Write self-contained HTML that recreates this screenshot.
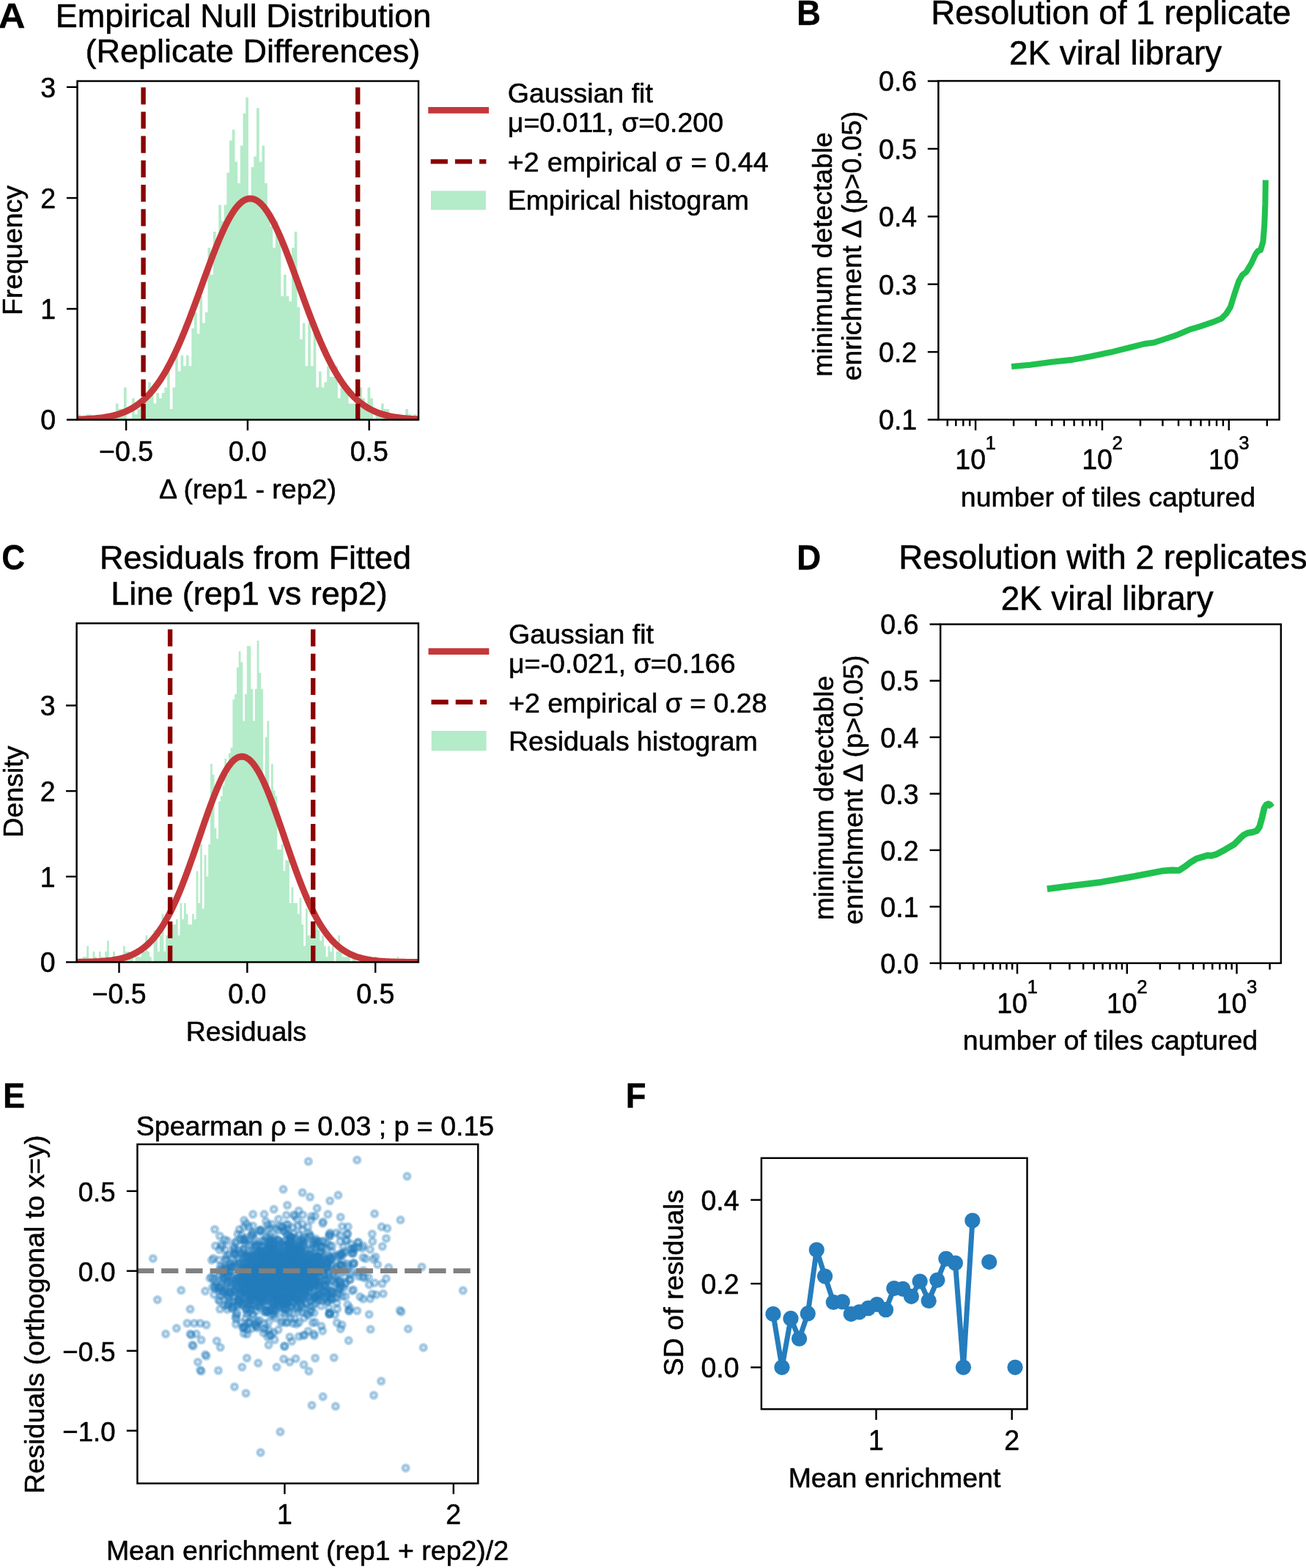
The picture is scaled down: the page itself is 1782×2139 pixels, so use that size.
<!DOCTYPE html>
<html lang="en">
<head>
<meta charset="utf-8">
<title>Figure: empirical null distribution and resolution</title>
<style>
html,body{margin:0;padding:0;background:#fff;}
body{width:1782px;height:2139px;overflow:hidden;}
svg{display:block;font-family:'Liberation Sans', Arial, Helvetica, sans-serif;}
svg text{fill:#000;stroke:#000;stroke-width:0.55px;stroke-linejoin:round;}
</style>
</head>
<body>
<svg xmlns="http://www.w3.org/2000/svg" width="1782" height="2139" viewBox="0 0 1782 2139">
<rect x="0" y="0" width="1782" height="2139" fill="#ffffff"/>
<clipPath id="c1"><rect x="105.5" y="110.6" width="465.5" height="462"/></clipPath>
<g clip-path="url(#c1)">
<path d="M106.14,572.6V565.27H109.84V572.6H113.53V572.6H117.22V565.27H120.92V565.27H124.61V572.6H128.31V572.6H132V572.6H135.7V572.6H139.39V572.6H143.09V572.6H146.78V572.6H150.48V572.6H154.17V572.6H157.87V550.61H161.56V557.94H165.26V557.94H168.95V528.62H172.65V572.6H176.34V572.6H180.04V543.28H183.73V565.27H187.43V557.94H191.12V550.61H194.82V543.28H198.51V543.28H202.21V521.29H205.9V535.95H209.6V550.61H213.29V535.95H216.99V543.28H220.68V535.95H224.38V528.62H228.07V506.63H231.77V557.94H235.46V528.62H239.16V484.64H242.85V506.63H246.55V484.64H250.24V499.3H253.94V484.64H257.63V499.3H261.33V447.99H265.02V426H268.72V455.32H272.41V404.01H276.11V440.66H279.8V426H283.5V338.04H287.19V374.69H290.89V316.05H294.58V330.71H298.28V279.4H301.97V301.39H305.67V279.4H309.36V235.42H313.06V191.44H316.75V176.78H320.45V220.76H324.14V250.08H327.84V198.77H331.53V154.79H335.23V132.8H338.92V272.07H342.62V228.09H346.31V213.43H350.01V147.46H353.7V220.76H357.4V198.77H361.09V250.08H364.79V294.06H368.48V308.72H372.18V338.04H375.87V301.39H379.57V330.71H383.26V404.01H386.96V374.69H390.65V404.01H394.35V411.34H398.04V338.04H401.74V316.05H405.43V418.67H409.13V462.65H412.82V440.66H416.52V499.3H420.21V440.66H423.91V499.3H427.6V455.32H431.3V528.62H434.99V506.63H438.69V528.62H442.38V521.29H446.08V499.3H449.77V513.96H453.47V513.96H457.16V499.3H460.86V543.28H464.55V528.62H468.25V528.62H471.94V528.62H475.64V550.61H479.33V550.61H483.03V550.61H486.72V550.61H490.42V528.62H494.11V543.28H497.81V550.61H501.5V528.62H505.2V543.28H508.89V572.6H512.59V565.27H516.28V565.27H519.98V550.61H523.67V557.94H527.37V557.94H531.06V565.27H534.76V572.6H538.45V565.27H542.15V572.6H545.84V572.6H549.54V572.6H553.23V557.94H556.93V565.27H560.62V572.6H564.32V565.27H568.02V572.6H571.71V572.6H575.41V572.6Z" fill="#b4ebc9"/>
<path d="M105.5,572.06 L107.44,572.01 L109.38,571.94 L111.32,571.87 L113.26,571.79 L115.2,571.71 L117.14,571.62 L119.08,571.51 L121.02,571.4 L122.96,571.28 L124.9,571.15 L126.84,571 L128.78,570.84 L130.71,570.67 L132.65,570.49 L134.59,570.28 L136.53,570.06 L138.47,569.82 L140.41,569.56 L142.35,569.28 L144.29,568.98 L146.23,568.65 L148.17,568.3 L150.11,567.92 L152.05,567.51 L153.99,567.07 L155.93,566.59 L157.87,566.08 L159.81,565.54 L161.75,564.95 L163.69,564.32 L165.63,563.65 L167.57,562.93 L169.51,562.17 L171.45,561.35 L173.39,560.48 L175.32,559.55 L177.26,558.57 L179.2,557.52 L181.14,556.41 L183.08,555.23 L185.02,553.98 L186.96,552.65 L188.9,551.26 L190.84,549.78 L192.78,548.22 L194.72,546.58 L196.66,544.85 L198.6,543.03 L200.54,541.12 L202.48,539.12 L204.42,537.02 L206.36,534.81 L208.3,532.51 L210.24,530.1 L212.18,527.59 L214.12,524.97 L216.06,522.23 L218,519.39 L219.94,516.44 L221.88,513.37 L223.81,510.18 L225.75,506.89 L227.69,503.47 L229.63,499.94 L231.57,496.3 L233.51,492.54 L235.45,488.67 L237.39,484.69 L239.33,480.6 L241.27,476.4 L243.21,472.09 L245.15,467.68 L247.09,463.17 L249.03,458.57 L250.97,453.87 L252.91,449.08 L254.85,444.21 L256.79,439.27 L258.73,434.25 L260.67,429.16 L262.61,424.02 L264.55,418.82 L266.49,413.58 L268.43,408.3 L270.36,402.99 L272.3,397.65 L274.24,392.3 L276.18,386.95 L278.12,381.6 L280.06,376.27 L282,370.96 L283.94,365.69 L285.88,360.45 L287.82,355.27 L289.76,350.16 L291.7,345.12 L293.64,340.16 L295.58,335.3 L297.52,330.54 L299.46,325.9 L301.4,321.39 L303.34,317.01 L305.28,312.78 L307.22,308.7 L309.16,304.79 L311.1,301.06 L313.04,297.5 L314.98,294.14 L316.91,290.98 L318.85,288.02 L320.79,285.28 L322.73,282.77 L324.67,280.48 L326.61,278.42 L328.55,276.6 L330.49,275.03 L332.43,273.7 L334.37,272.63 L336.31,271.81 L338.25,271.24 L340.19,270.93 L342.13,270.88 L344.07,271.08 L346.01,271.55 L347.95,272.27 L349.89,273.24 L351.83,274.47 L353.77,275.94 L355.71,277.67 L357.65,279.63 L359.59,281.82 L361.52,284.25 L363.46,286.9 L365.4,289.77 L367.34,292.85 L369.28,296.13 L371.22,299.61 L373.16,303.27 L375.1,307.12 L377.04,311.13 L378.98,315.3 L380.92,319.62 L382.86,324.08 L384.8,328.67 L386.74,333.38 L388.68,338.2 L390.62,343.12 L392.56,348.13 L394.5,353.22 L396.44,358.37 L398.38,363.58 L400.32,368.85 L402.26,374.14 L404.2,379.47 L406.14,384.81 L408.07,390.16 L410.01,395.51 L411.95,400.85 L413.89,406.17 L415.83,411.47 L417.77,416.73 L419.71,421.95 L421.65,427.11 L423.59,432.22 L425.53,437.27 L427.47,442.24 L429.41,447.14 L431.35,451.96 L433.29,456.7 L435.23,461.34 L437.17,465.89 L439.11,470.34 L441.05,474.69 L442.99,478.93 L444.93,483.07 L446.87,487.09 L448.81,491.01 L450.75,494.81 L452.69,498.5 L454.62,502.07 L456.56,505.53 L458.5,508.88 L460.44,512.11 L462.38,515.22 L464.32,518.22 L466.26,521.11 L468.2,523.89 L470.14,526.55 L472.08,529.11 L474.02,531.56 L475.96,533.9 L477.9,536.15 L479.84,538.29 L481.78,540.33 L483.72,542.28 L485.66,544.14 L487.6,545.9 L489.54,547.58 L491.48,549.17 L493.42,550.68 L495.36,552.1 L497.3,553.46 L499.24,554.73 L501.18,555.94 L503.11,557.08 L505.05,558.15 L506.99,559.16 L508.93,560.12 L510.87,561.01 L512.81,561.85 L514.75,562.63 L516.69,563.37 L518.63,564.06 L520.57,564.71 L522.51,565.31 L524.45,565.87 L526.39,566.39 L528.33,566.88 L530.27,567.34 L532.21,567.76 L534.15,568.15 L536.09,568.52 L538.03,568.85 L539.97,569.17 L541.91,569.45 L543.85,569.72 L545.79,569.97 L547.73,570.2 L549.66,570.41 L551.6,570.6 L553.54,570.78 L555.48,570.94 L557.42,571.09 L559.36,571.23 L561.3,571.35 L563.24,571.47 L565.18,571.58 L567.12,571.67 L569.06,571.76 L571,571.84" fill="none" stroke="#c4383b" stroke-width="8.9" stroke-linejoin="round"/>
<line x1="195.6" y1="119.2" x2="195.6" y2="572.6" stroke="#8b0000" stroke-width="6.4" stroke-dasharray="23.2 10"/>
<line x1="488.2" y1="119.2" x2="488.2" y2="572.6" stroke="#8b0000" stroke-width="6.4" stroke-dasharray="23.2 10"/>
</g>
<rect x="105.5" y="110.6" width="465.5" height="462" fill="none" stroke="#000" stroke-width="2.45"/>
<line x1="90.9" y1="572.6" x2="105.5" y2="572.6" stroke="#000" stroke-width="2.45"/>
<text transform="translate(76 586.4) scale(1 1.035)" font-size="37.5" text-anchor="end">0</text>
<line x1="90.9" y1="421.33" x2="105.5" y2="421.33" stroke="#000" stroke-width="2.45"/>
<text transform="translate(76 435.13) scale(1 1.035)" font-size="37.5" text-anchor="end">1</text>
<line x1="90.9" y1="270.07" x2="105.5" y2="270.07" stroke="#000" stroke-width="2.45"/>
<text transform="translate(76 283.87) scale(1 1.035)" font-size="37.5" text-anchor="end">2</text>
<line x1="90.9" y1="118.8" x2="105.5" y2="118.8" stroke="#000" stroke-width="2.45"/>
<text transform="translate(76 132.6) scale(1 1.035)" font-size="37.5" text-anchor="end">3</text>
<line x1="172.1" y1="572.6" x2="172.1" y2="587.2" stroke="#000" stroke-width="2.45"/>
<text transform="translate(172.1 628.8) scale(1 1.035)" font-size="37.5" text-anchor="middle">−0.5</text>
<line x1="337.9" y1="572.6" x2="337.9" y2="587.2" stroke="#000" stroke-width="2.45"/>
<text transform="translate(337.9 628.8) scale(1 1.035)" font-size="37.5" text-anchor="middle">0.0</text>
<line x1="503.7" y1="572.6" x2="503.7" y2="587.2" stroke="#000" stroke-width="2.45"/>
<text transform="translate(503.7 628.8) scale(1 1.035)" font-size="37.5" text-anchor="middle">0.5</text>
<text x="332" y="37.4" font-size="45" text-anchor="middle">Empirical Null Distribution</text>
<text x="344.9" y="85" font-size="45" text-anchor="middle">(Replicate Differences)</text>
<text x="338" y="679.5" font-size="37.5" text-anchor="middle">Δ (rep1 - rep2)</text>
<text x="29.8" y="341.5" font-size="37.5" text-anchor="middle" transform="rotate(-90 29.8 341.5)">Frequency</text>
<line x1="588.7" y1="150.4" x2="662.6" y2="150.4" stroke="#c4383b" stroke-width="8.9" stroke-linecap="square"/>
<line x1="587.7" y1="220.4" x2="663.4" y2="220.4" stroke="#8b0000" stroke-width="6.4" stroke-dasharray="23.2 10"/>
<rect x="588" y="260.3" width="74.9" height="26" fill="#b4ebc9"/>
<text x="692.8" y="139.8" font-size="37.5" text-anchor="start">Gaussian fit</text>
<text x="692.8" y="179.7" font-size="37.5" text-anchor="start">μ=0.011, σ=0.200</text>
<text x="692.8" y="233.7" font-size="37.5" text-anchor="start" word-spacing="0.8">+2 empirical σ = 0.44</text>
<text x="692.8" y="286.3" font-size="37.5" text-anchor="start">Empirical histogram</text>
<path d="M1380.11,500 L1405.71,497.71 L1435.43,493.83 L1462.86,490.86 L1488,486.29 L1515.43,480.57 L1542.86,473.71 L1561.14,469.14 L1573.71,467.54 L1588.57,462.74 L1606.86,456.57 L1622.86,449.71 L1636.57,445.6 L1654.86,439.43 L1666.29,434.86 L1673.14,428 L1678.86,418.86 L1684.57,400.57 L1690.29,383.43 L1694.86,375.43 L1700.57,370.86 L1707.43,359.43 L1713.14,346.86 L1716.57,342.29 L1720,341.14 L1723.43,329.71 L1725.26,306.86 L1726.4,277.14 L1726.86,245.6" fill="none" stroke="#20c14e" stroke-width="8.1" stroke-linejoin="round" stroke-linecap="butt"/>
<rect x="1280.4" y="110.4" width="465.2" height="462.1" fill="none" stroke="#000" stroke-width="2.45"/>
<line x1="1265.8" y1="572.5" x2="1280.4" y2="572.5" stroke="#000" stroke-width="2.45"/>
<text transform="translate(1251.2 586.3) scale(1 1.035)" font-size="37.5" text-anchor="end">0.1</text>
<line x1="1265.8" y1="480.12" x2="1280.4" y2="480.12" stroke="#000" stroke-width="2.45"/>
<text transform="translate(1251.2 493.92) scale(1 1.035)" font-size="37.5" text-anchor="end">0.2</text>
<line x1="1265.8" y1="387.74" x2="1280.4" y2="387.74" stroke="#000" stroke-width="2.45"/>
<text transform="translate(1251.2 401.54) scale(1 1.035)" font-size="37.5" text-anchor="end">0.3</text>
<line x1="1265.8" y1="295.36" x2="1280.4" y2="295.36" stroke="#000" stroke-width="2.45"/>
<text transform="translate(1251.2 309.16) scale(1 1.035)" font-size="37.5" text-anchor="end">0.4</text>
<line x1="1265.8" y1="202.98" x2="1280.4" y2="202.98" stroke="#000" stroke-width="2.45"/>
<text transform="translate(1251.2 216.78) scale(1 1.035)" font-size="37.5" text-anchor="end">0.5</text>
<line x1="1265.8" y1="110.6" x2="1280.4" y2="110.6" stroke="#000" stroke-width="2.45"/>
<text transform="translate(1251.2 124.4) scale(1 1.035)" font-size="37.5" text-anchor="end">0.6</text>
<line x1="1292.75" y1="572.5" x2="1292.75" y2="581.26" stroke="#000" stroke-width="2.45"/>
<line x1="1304.33" y1="572.5" x2="1304.33" y2="581.26" stroke="#000" stroke-width="2.45"/>
<line x1="1314.35" y1="572.5" x2="1314.35" y2="581.26" stroke="#000" stroke-width="2.45"/>
<line x1="1323.19" y1="572.5" x2="1323.19" y2="581.26" stroke="#000" stroke-width="2.45"/>
<line x1="1331.1" y1="572.5" x2="1331.1" y2="587.1" stroke="#000" stroke-width="2.45"/>
<text transform="translate(1303.3 640.3) scale(1 1.035)" font-size="37.5">10<tspan x="41.3" y="-26.09" font-size="25.8">1</tspan></text>
<line x1="1383.13" y1="572.5" x2="1383.13" y2="581.26" stroke="#000" stroke-width="2.45"/>
<line x1="1413.57" y1="572.5" x2="1413.57" y2="581.26" stroke="#000" stroke-width="2.45"/>
<line x1="1435.17" y1="572.5" x2="1435.17" y2="581.26" stroke="#000" stroke-width="2.45"/>
<line x1="1451.92" y1="572.5" x2="1451.92" y2="581.26" stroke="#000" stroke-width="2.45"/>
<line x1="1465.6" y1="572.5" x2="1465.6" y2="581.26" stroke="#000" stroke-width="2.45"/>
<line x1="1477.18" y1="572.5" x2="1477.18" y2="581.26" stroke="#000" stroke-width="2.45"/>
<line x1="1487.2" y1="572.5" x2="1487.2" y2="581.26" stroke="#000" stroke-width="2.45"/>
<line x1="1496.04" y1="572.5" x2="1496.04" y2="581.26" stroke="#000" stroke-width="2.45"/>
<line x1="1503.95" y1="572.5" x2="1503.95" y2="587.1" stroke="#000" stroke-width="2.45"/>
<text transform="translate(1476.15 640.3) scale(1 1.035)" font-size="37.5">10<tspan x="41.3" y="-26.09" font-size="25.8">2</tspan></text>
<line x1="1555.98" y1="572.5" x2="1555.98" y2="581.26" stroke="#000" stroke-width="2.45"/>
<line x1="1586.42" y1="572.5" x2="1586.42" y2="581.26" stroke="#000" stroke-width="2.45"/>
<line x1="1608.02" y1="572.5" x2="1608.02" y2="581.26" stroke="#000" stroke-width="2.45"/>
<line x1="1624.77" y1="572.5" x2="1624.77" y2="581.26" stroke="#000" stroke-width="2.45"/>
<line x1="1638.45" y1="572.5" x2="1638.45" y2="581.26" stroke="#000" stroke-width="2.45"/>
<line x1="1650.03" y1="572.5" x2="1650.03" y2="581.26" stroke="#000" stroke-width="2.45"/>
<line x1="1660.05" y1="572.5" x2="1660.05" y2="581.26" stroke="#000" stroke-width="2.45"/>
<line x1="1668.89" y1="572.5" x2="1668.89" y2="581.26" stroke="#000" stroke-width="2.45"/>
<line x1="1676.8" y1="572.5" x2="1676.8" y2="587.1" stroke="#000" stroke-width="2.45"/>
<text transform="translate(1649 640.3) scale(1 1.035)" font-size="37.5">10<tspan x="41.3" y="-26.09" font-size="25.8">3</tspan></text>
<line x1="1728.83" y1="572.5" x2="1728.83" y2="581.26" stroke="#000" stroke-width="2.45"/>
<text x="1515.9" y="33.2" font-size="45.8" text-anchor="middle">Resolution of 1 replicate</text>
<text x="1522.1" y="87.5" font-size="45.8" text-anchor="middle">2K viral library</text>
<text x="1512" y="690.5" font-size="37.5" text-anchor="middle">number of tiles captured</text>
<text x="1134.5" y="347" font-size="37.25" text-anchor="middle" transform="rotate(-90 1134.5 347)">minimum detectable</text>
<text x="1175.4" y="335.5" font-size="37.25" text-anchor="middle" transform="rotate(-90 1175.4 335.5)">enrichment Δ (p&gt;0.05)</text>
<clipPath id="c2"><rect x="104.6" y="850.3" width="466.3" height="462.2"/></clipPath>
<g clip-path="url(#c2)">
<path d="M104.41,1312.5V1312.5H107.18V1312.5H109.94V1312.5H112.71V1305.19H115.47V1305.19H118.24V1290.57H121.01V1312.5H123.77V1312.5H126.54V1297.88H129.3V1305.19H132.07V1312.5H134.84V1297.88H137.6V1305.19H140.37V1312.5H143.13V1297.88H145.9V1283.26H148.67V1312.5H151.43V1312.5H154.2V1297.88H156.96V1305.19H159.73V1312.5H162.5V1305.19H165.26V1312.5H168.03V1290.57H170.79V1297.88H173.56V1297.88H176.33V1305.19H179.09V1305.19H181.86V1312.5H184.62V1305.19H187.39V1305.19H190.16V1305.19H192.92V1297.88H195.69V1297.88H198.45V1275.95H201.22V1297.88H203.99V1305.19H206.75V1312.5H209.52V1268.64H212.28V1275.95H215.05V1297.88H217.82V1275.95H220.58V1246.71H223.35V1297.88H226.11V1275.95H228.88V1268.64H231.65V1261.33H234.41V1261.33H237.18V1261.33H239.94V1254.02H242.71V1275.95H245.48V1232.09H248.24V1254.02H251.01V1232.09H253.77V1246.71H256.54V1261.33H259.31V1261.33H262.07V1246.71H264.84V1254.02H267.6V1188.23H270.37V1232.09H273.14V1151.68H275.9V1239.4H278.67V1166.3H281.43V1195.54H284.2V1151.68H286.97V1042.03H289.73V1056.65H292.5V1129.75H295.26V1144.37H298.03V1093.2H300.8V1085.89H303.56V1071.27H306.33V1034.72H309.09V1056.65H311.86V1027.41H314.63V1020.1H317.39V954.31H320.16V947H322.92V910.45H325.69V888.52H328.46V903.14H331.22V983.55H333.99V947H336.75V881.21H339.52V881.21H342.29V939.69H345.05V983.55H347.82V939.69H350.58V873.9H353.35V917.76H356.12V939.69H358.88V1063.96H361.65V1005.48H364.41V983.55H367.18V1085.89H369.95V1042.03H372.71V1078.58H375.48V1085.89H378.24V1158.99H381.01V1158.99H383.78V1151.68H386.54V1188.23H389.31V1173.61H392.07V1173.61H394.84V1232.09H397.61V1210.16H400.37V1232.09H403.14V1232.09H405.9V1246.71H408.67V1224.78H411.44V1261.33H414.2V1290.57H416.97V1239.4H419.73V1275.95H422.5V1275.95H425.27V1275.95H428.03V1268.64H430.8V1261.33H433.56V1268.64H436.33V1283.26H439.1V1275.95H441.86V1290.57H444.63V1305.19H447.39V1290.57H450.16V1297.88H452.93V1290.57H455.69V1312.5H458.46V1297.88H461.22V1275.95H463.99V1297.88H466.76V1305.19H469.52V1305.19H472.29V1305.19H475.05V1305.19H477.82V1312.5H480.59V1305.19H483.35V1305.19H486.12V1312.5H488.88V1312.5H491.65V1312.5H494.42V1312.5H497.18V1312.5H499.95V1312.5H502.71V1312.5H505.48V1312.5H508.25V1312.5H511.01V1305.19H513.78V1312.5H516.54V1312.5H519.31V1312.5H522.08V1312.5H524.84V1312.5H527.61V1312.5H530.37V1312.5H533.14V1312.5H535.91V1312.5H538.67V1312.5H541.44V1305.19H544.2V1312.5H546.97V1312.5H549.74V1312.5H552.5V1312.5H555.27V1312.5H558.03V1312.5H560.8V1312.5H563.57V1312.5H566.33V1312.5H569.1V1312.5H571.86V1312.5Z" fill="#b4ebc9"/>
<path d="M104.6,1312.35 L106.54,1312.33 L108.49,1312.31 L110.43,1312.28 L112.37,1312.25 L114.31,1312.22 L116.26,1312.18 L118.2,1312.14 L120.14,1312.09 L122.09,1312.04 L124.03,1311.98 L125.97,1311.92 L127.91,1311.85 L129.86,1311.76 L131.8,1311.68 L133.74,1311.58 L135.69,1311.47 L137.63,1311.34 L139.57,1311.21 L141.52,1311.06 L143.46,1310.9 L145.4,1310.71 L147.34,1310.51 L149.29,1310.3 L151.23,1310.05 L153.17,1309.79 L155.12,1309.5 L157.06,1309.19 L159,1308.84 L160.94,1308.46 L162.89,1308.05 L164.83,1307.6 L166.77,1307.12 L168.72,1306.59 L170.66,1306.02 L172.6,1305.4 L174.54,1304.73 L176.49,1304 L178.43,1303.22 L180.37,1302.38 L182.32,1301.48 L184.26,1300.5 L186.2,1299.46 L188.15,1298.34 L190.09,1297.14 L192.03,1295.86 L193.97,1294.49 L195.92,1293.03 L197.86,1291.48 L199.8,1289.83 L201.75,1288.08 L203.69,1286.22 L205.63,1284.25 L207.57,1282.16 L209.52,1279.96 L211.46,1277.64 L213.4,1275.2 L215.35,1272.62 L217.29,1269.92 L219.23,1267.09 L221.17,1264.12 L223.12,1261.02 L225.06,1257.78 L227,1254.4 L228.95,1250.87 L230.89,1247.21 L232.83,1243.41 L234.78,1239.47 L236.72,1235.39 L238.66,1231.18 L240.6,1226.83 L242.55,1222.35 L244.49,1217.74 L246.43,1213.01 L248.38,1208.15 L250.32,1203.18 L252.26,1198.11 L254.2,1192.93 L256.15,1187.66 L258.09,1182.3 L260.03,1176.87 L261.98,1171.36 L263.92,1165.8 L265.86,1160.19 L267.8,1154.54 L269.75,1148.86 L271.69,1143.17 L273.63,1137.48 L275.58,1131.8 L277.52,1126.14 L279.46,1120.52 L281.41,1114.96 L283.35,1109.46 L285.29,1104.04 L287.23,1098.71 L289.18,1093.5 L291.12,1088.4 L293.06,1083.45 L295.01,1078.65 L296.95,1074.02 L298.89,1069.57 L300.83,1065.31 L302.78,1061.25 L304.72,1057.42 L306.66,1053.82 L308.61,1050.46 L310.55,1047.36 L312.49,1044.52 L314.43,1041.95 L316.38,1039.66 L318.32,1037.66 L320.26,1035.96 L322.21,1034.56 L324.15,1033.46 L326.09,1032.68 L328.04,1032.2 L329.98,1032.04 L331.92,1032.19 L333.86,1032.66 L335.81,1033.44 L337.75,1034.52 L339.69,1035.92 L341.64,1037.61 L343.58,1039.6 L345.52,1041.88 L347.46,1044.44 L349.41,1047.27 L351.35,1050.37 L353.29,1053.72 L355.24,1057.32 L357.18,1061.14 L359.12,1065.19 L361.06,1069.44 L363.01,1073.89 L364.95,1078.52 L366.89,1083.31 L368.84,1088.26 L370.78,1093.35 L372.72,1098.56 L374.67,1103.88 L376.61,1109.3 L378.55,1114.8 L380.49,1120.36 L382.44,1125.98 L384.38,1131.63 L386.32,1137.31 L388.27,1143.01 L390.21,1148.7 L392.15,1154.37 L394.09,1160.02 L396.04,1165.64 L397.98,1171.2 L399.92,1176.71 L401.87,1182.15 L403.81,1187.51 L405.75,1192.78 L407.69,1197.96 L409.64,1203.04 L411.58,1208.01 L413.52,1212.87 L415.47,1217.6 L417.41,1222.22 L419.35,1226.7 L421.3,1231.06 L423.24,1235.28 L425.18,1239.36 L427.12,1243.3 L429.07,1247.11 L431.01,1250.77 L432.95,1254.3 L434.9,1257.68 L436.84,1260.93 L438.78,1264.03 L440.72,1267.01 L442.67,1269.84 L444.61,1272.55 L446.55,1275.12 L448.5,1277.57 L450.44,1279.9 L452.38,1282.1 L454.32,1284.19 L456.27,1286.16 L458.21,1288.02 L460.15,1289.78 L462.1,1291.44 L464.04,1292.99 L465.98,1294.45 L467.93,1295.82 L469.87,1297.11 L471.81,1298.31 L473.75,1299.43 L475.7,1300.47 L477.64,1301.45 L479.58,1302.36 L481.53,1303.2 L483.47,1303.98 L485.41,1304.71 L487.35,1305.38 L489.3,1306 L491.24,1306.57 L493.18,1307.1 L495.13,1307.59 L497.07,1308.04 L499.01,1308.45 L500.95,1308.83 L502.9,1309.18 L504.84,1309.49 L506.78,1309.78 L508.73,1310.05 L510.67,1310.29 L512.61,1310.51 L514.56,1310.71 L516.5,1310.89 L518.44,1311.06 L520.38,1311.2 L522.33,1311.34 L524.27,1311.46 L526.21,1311.57 L528.16,1311.67 L530.1,1311.76 L532.04,1311.84 L533.98,1311.92 L535.93,1311.98 L537.87,1312.04 L539.81,1312.09 L541.76,1312.14 L543.7,1312.18 L545.64,1312.22 L547.58,1312.25 L549.53,1312.28 L551.47,1312.31 L553.41,1312.33 L555.36,1312.35 L557.3,1312.37 L559.24,1312.38 L561.19,1312.4 L563.13,1312.41 L565.07,1312.42 L567.01,1312.43 L568.96,1312.44 L570.9,1312.45" fill="none" stroke="#c4383b" stroke-width="8.9" stroke-linejoin="round"/>
<line x1="232.1" y1="858.5" x2="232.1" y2="1312.5" stroke="#8b0000" stroke-width="6.4" stroke-dasharray="23.2 10"/>
<line x1="427.2" y1="858.5" x2="427.2" y2="1312.5" stroke="#8b0000" stroke-width="6.4" stroke-dasharray="23.2 10"/>
</g>
<rect x="104.6" y="850.3" width="466.3" height="462.2" fill="none" stroke="#000" stroke-width="2.45"/>
<line x1="90" y1="1312.5" x2="104.6" y2="1312.5" stroke="#000" stroke-width="2.45"/>
<text transform="translate(75.5 1326.3) scale(1 1.035)" font-size="37.5" text-anchor="end">0</text>
<line x1="90" y1="1195.8" x2="104.6" y2="1195.8" stroke="#000" stroke-width="2.45"/>
<text transform="translate(75.5 1209.6) scale(1 1.035)" font-size="37.5" text-anchor="end">1</text>
<line x1="90" y1="1079.1" x2="104.6" y2="1079.1" stroke="#000" stroke-width="2.45"/>
<text transform="translate(75.5 1092.9) scale(1 1.035)" font-size="37.5" text-anchor="end">2</text>
<line x1="90" y1="962.4" x2="104.6" y2="962.4" stroke="#000" stroke-width="2.45"/>
<text transform="translate(75.5 976.2) scale(1 1.035)" font-size="37.5" text-anchor="end">3</text>
<line x1="162.5" y1="1312.5" x2="162.5" y2="1327.1" stroke="#000" stroke-width="2.45"/>
<text transform="translate(162.5 1368.9) scale(1 1.035)" font-size="37.5" text-anchor="middle">−0.5</text>
<line x1="337.35" y1="1312.5" x2="337.35" y2="1327.1" stroke="#000" stroke-width="2.45"/>
<text transform="translate(337.35 1368.9) scale(1 1.035)" font-size="37.5" text-anchor="middle">0.0</text>
<line x1="512.2" y1="1312.5" x2="512.2" y2="1327.1" stroke="#000" stroke-width="2.45"/>
<text transform="translate(512.2 1368.9) scale(1 1.035)" font-size="37.5" text-anchor="middle">0.5</text>
<text x="348.5" y="776" font-size="45" text-anchor="middle">Residuals from Fitted</text>
<text x="340" y="824.5" font-size="45" text-anchor="middle">Line (rep1 vs rep2)</text>
<text x="336" y="1420" font-size="37.5" text-anchor="middle">Residuals</text>
<text x="30.5" y="1080" font-size="37.5" text-anchor="middle" transform="rotate(-90 30.5 1080)">Density</text>
<line x1="589.0" y1="888.6" x2="662.9" y2="888.6" stroke="#c4383b" stroke-width="8.9" stroke-linecap="square"/>
<line x1="588.5" y1="957.7" x2="664.2" y2="957.7" stroke="#8b0000" stroke-width="6.4" stroke-dasharray="23.2 10"/>
<rect x="588.7" y="997" width="74.9" height="27.2" fill="#b4ebc9"/>
<text x="694" y="877.8" font-size="37.5" text-anchor="start">Gaussian fit</text>
<text x="694" y="917.7" font-size="37.5" text-anchor="start">μ=-0.021, σ=0.166</text>
<text x="694" y="971.7" font-size="37.5" text-anchor="start">+2 empirical σ = 0.28</text>
<text x="694" y="1024.3" font-size="37.5" text-anchor="start">Residuals histogram</text>
<path d="M1428.8,1212.52 L1461.72,1208.4 L1502.86,1203.26 L1544,1196.06 L1585.15,1188.24 L1597.49,1187.01 L1608.8,1187.42 L1616,1182.69 L1624.23,1176.52 L1632.46,1171.37 L1640.69,1168.91 L1647.89,1166.85 L1653.03,1167.26 L1660.23,1165.2 L1671.55,1159.03 L1683.89,1151.83 L1692.12,1143.6 L1697.26,1138.87 L1702.41,1136.4 L1708.58,1135.37 L1714.75,1133.32 L1718.45,1128.17 L1721.95,1115.83 L1725.04,1102.46 L1727.71,1097.93 L1730.38,1096.7 L1732.65,1097.52 L1735.32,1101.22" fill="none" stroke="#20c14e" stroke-width="8.8" stroke-linejoin="round" stroke-linecap="butt"/>
<rect x="1283.2" y="851.6" width="464.6" height="462.3" fill="none" stroke="#000" stroke-width="2.45"/>
<line x1="1268.6" y1="1313.9" x2="1283.2" y2="1313.9" stroke="#000" stroke-width="2.45"/>
<text transform="translate(1253.5 1327.7) scale(1 1.035)" font-size="37.5" text-anchor="end">0.0</text>
<line x1="1268.6" y1="1236.85" x2="1283.2" y2="1236.85" stroke="#000" stroke-width="2.45"/>
<text transform="translate(1253.5 1250.65) scale(1 1.035)" font-size="37.5" text-anchor="end">0.1</text>
<line x1="1268.6" y1="1159.8" x2="1283.2" y2="1159.8" stroke="#000" stroke-width="2.45"/>
<text transform="translate(1253.5 1173.6) scale(1 1.035)" font-size="37.5" text-anchor="end">0.2</text>
<line x1="1268.6" y1="1082.75" x2="1283.2" y2="1082.75" stroke="#000" stroke-width="2.45"/>
<text transform="translate(1253.5 1096.55) scale(1 1.035)" font-size="37.5" text-anchor="end">0.3</text>
<line x1="1268.6" y1="1005.7" x2="1283.2" y2="1005.7" stroke="#000" stroke-width="2.45"/>
<text transform="translate(1253.5 1019.5) scale(1 1.035)" font-size="37.5" text-anchor="end">0.4</text>
<line x1="1268.6" y1="928.65" x2="1283.2" y2="928.65" stroke="#000" stroke-width="2.45"/>
<text transform="translate(1253.5 942.45) scale(1 1.035)" font-size="37.5" text-anchor="end">0.5</text>
<line x1="1268.6" y1="851.6" x2="1283.2" y2="851.6" stroke="#000" stroke-width="2.45"/>
<text transform="translate(1253.5 865.4) scale(1 1.035)" font-size="37.5" text-anchor="end">0.6</text>
<line x1="1283.33" y1="1313.9" x2="1283.33" y2="1322.66" stroke="#000" stroke-width="2.45"/>
<line x1="1309.7" y1="1313.9" x2="1309.7" y2="1322.66" stroke="#000" stroke-width="2.45"/>
<line x1="1328.41" y1="1313.9" x2="1328.41" y2="1322.66" stroke="#000" stroke-width="2.45"/>
<line x1="1342.92" y1="1313.9" x2="1342.92" y2="1322.66" stroke="#000" stroke-width="2.45"/>
<line x1="1354.78" y1="1313.9" x2="1354.78" y2="1322.66" stroke="#000" stroke-width="2.45"/>
<line x1="1364.8" y1="1313.9" x2="1364.8" y2="1322.66" stroke="#000" stroke-width="2.45"/>
<line x1="1373.49" y1="1313.9" x2="1373.49" y2="1322.66" stroke="#000" stroke-width="2.45"/>
<line x1="1381.15" y1="1313.9" x2="1381.15" y2="1322.66" stroke="#000" stroke-width="2.45"/>
<line x1="1388" y1="1313.9" x2="1388" y2="1328.5" stroke="#000" stroke-width="2.45"/>
<text transform="translate(1360.2 1381.5) scale(1 1.035)" font-size="37.5">10<tspan x="41.3" y="-26.09" font-size="25.8">1</tspan></text>
<line x1="1433.08" y1="1313.9" x2="1433.08" y2="1322.66" stroke="#000" stroke-width="2.45"/>
<line x1="1459.45" y1="1313.9" x2="1459.45" y2="1322.66" stroke="#000" stroke-width="2.45"/>
<line x1="1478.16" y1="1313.9" x2="1478.16" y2="1322.66" stroke="#000" stroke-width="2.45"/>
<line x1="1492.67" y1="1313.9" x2="1492.67" y2="1322.66" stroke="#000" stroke-width="2.45"/>
<line x1="1504.53" y1="1313.9" x2="1504.53" y2="1322.66" stroke="#000" stroke-width="2.45"/>
<line x1="1514.55" y1="1313.9" x2="1514.55" y2="1322.66" stroke="#000" stroke-width="2.45"/>
<line x1="1523.24" y1="1313.9" x2="1523.24" y2="1322.66" stroke="#000" stroke-width="2.45"/>
<line x1="1530.9" y1="1313.9" x2="1530.9" y2="1322.66" stroke="#000" stroke-width="2.45"/>
<line x1="1537.75" y1="1313.9" x2="1537.75" y2="1328.5" stroke="#000" stroke-width="2.45"/>
<text transform="translate(1509.95 1381.5) scale(1 1.035)" font-size="37.5">10<tspan x="41.3" y="-26.09" font-size="25.8">2</tspan></text>
<line x1="1582.83" y1="1313.9" x2="1582.83" y2="1322.66" stroke="#000" stroke-width="2.45"/>
<line x1="1609.2" y1="1313.9" x2="1609.2" y2="1322.66" stroke="#000" stroke-width="2.45"/>
<line x1="1627.91" y1="1313.9" x2="1627.91" y2="1322.66" stroke="#000" stroke-width="2.45"/>
<line x1="1642.42" y1="1313.9" x2="1642.42" y2="1322.66" stroke="#000" stroke-width="2.45"/>
<line x1="1654.28" y1="1313.9" x2="1654.28" y2="1322.66" stroke="#000" stroke-width="2.45"/>
<line x1="1664.3" y1="1313.9" x2="1664.3" y2="1322.66" stroke="#000" stroke-width="2.45"/>
<line x1="1672.99" y1="1313.9" x2="1672.99" y2="1322.66" stroke="#000" stroke-width="2.45"/>
<line x1="1680.65" y1="1313.9" x2="1680.65" y2="1322.66" stroke="#000" stroke-width="2.45"/>
<line x1="1687.5" y1="1313.9" x2="1687.5" y2="1328.5" stroke="#000" stroke-width="2.45"/>
<text transform="translate(1659.7 1381.5) scale(1 1.035)" font-size="37.5">10<tspan x="41.3" y="-26.09" font-size="25.8">3</tspan></text>
<line x1="1732.58" y1="1313.9" x2="1732.58" y2="1322.66" stroke="#000" stroke-width="2.45"/>
<text x="1505" y="776.4" font-size="45.8" text-anchor="middle">Resolution with 2 replicates</text>
<text x="1510.7" y="831.8" font-size="45.8" text-anchor="middle">2K viral library</text>
<text x="1515" y="1431.5" font-size="37.5" text-anchor="middle">number of tiles captured</text>
<text x="1136.5" y="1088.5" font-size="37.25" text-anchor="middle" transform="rotate(-90 1136.5 1088.5)">minimum detectable</text>
<text x="1177.4" y="1077.5" font-size="37.25" text-anchor="middle" transform="rotate(-90 1177.4 1077.5)">enrichment Δ (p&gt;0.05)</text>
<clipPath id="c3"><rect x="187.45" y="1561" width="464.85" height="462.6"/></clipPath>
<g clip-path="url(#c3)" fill="#257dbd" fill-opacity="0.25" stroke="#257dbd" stroke-opacity="0.3" stroke-width="4.0">
<defs><circle id="m" r="4.4"/></defs>
<use href="#m" x="368.73" y="1821.84"/>
<use href="#m" x="306.81" y="1726.81"/>
<use href="#m" x="406.09" y="1751.94"/>
<use href="#m" x="389.31" y="1709.91"/>
<use href="#m" x="406.18" y="1737.24"/>
<use href="#m" x="427.93" y="1758.1"/>
<use href="#m" x="385.56" y="1750.51"/>
<use href="#m" x="384.23" y="1737.58"/>
<use href="#m" x="396.67" y="1706.99"/>
<use href="#m" x="415.66" y="1766.36"/>
<use href="#m" x="290.15" y="1755.75"/>
<use href="#m" x="427.78" y="1751.25"/>
<use href="#m" x="421.4" y="1762.98"/>
<use href="#m" x="394.32" y="1727.47"/>
<use href="#m" x="374.18" y="1709.07"/>
<use href="#m" x="365.6" y="1757.23"/>
<use href="#m" x="393.81" y="1762.35"/>
<use href="#m" x="331.67" y="1734.35"/>
<use href="#m" x="389.58" y="1739.32"/>
<use href="#m" x="388.58" y="1745.96"/>
<use href="#m" x="332.62" y="1692.69"/>
<use href="#m" x="403.69" y="1734.37"/>
<use href="#m" x="424.38" y="1664.33"/>
<use href="#m" x="434.55" y="1753.88"/>
<use href="#m" x="324.35" y="1744.67"/>
<use href="#m" x="373.81" y="1779.41"/>
<use href="#m" x="363.2" y="1712.11"/>
<use href="#m" x="375.21" y="1720.11"/>
<use href="#m" x="400.6" y="1732.43"/>
<use href="#m" x="419.5" y="1739.13"/>
<use href="#m" x="423.28" y="1740.91"/>
<use href="#m" x="392.37" y="1707.95"/>
<use href="#m" x="321.36" y="1725.08"/>
<use href="#m" x="389.49" y="1741.52"/>
<use href="#m" x="389.89" y="1748.83"/>
<use href="#m" x="464.06" y="1759.05"/>
<use href="#m" x="437.76" y="1707.51"/>
<use href="#m" x="395.11" y="1754.38"/>
<use href="#m" x="447.93" y="1738.75"/>
<use href="#m" x="315.22" y="1722.96"/>
<use href="#m" x="331.99" y="1733.46"/>
<use href="#m" x="405.88" y="1720.85"/>
<use href="#m" x="465.61" y="1754.98"/>
<use href="#m" x="376.71" y="1730.16"/>
<use href="#m" x="386.98" y="1783.6"/>
<use href="#m" x="387.83" y="1777.04"/>
<use href="#m" x="321.94" y="1806.37"/>
<use href="#m" x="371.4" y="1756.37"/>
<use href="#m" x="381.97" y="1773.33"/>
<use href="#m" x="425.98" y="1749.67"/>
<use href="#m" x="424.99" y="1736.46"/>
<use href="#m" x="360.5" y="1761.03"/>
<use href="#m" x="342.95" y="1767.99"/>
<use href="#m" x="306.12" y="1745.09"/>
<use href="#m" x="414.08" y="1784.61"/>
<use href="#m" x="356.61" y="1772.59"/>
<use href="#m" x="440.8" y="1666.66"/>
<use href="#m" x="360.82" y="1759.17"/>
<use href="#m" x="389.85" y="1804.41"/>
<use href="#m" x="419.3" y="1733.78"/>
<use href="#m" x="366.22" y="1751.57"/>
<use href="#m" x="369.27" y="1748.59"/>
<use href="#m" x="385.82" y="1731.01"/>
<use href="#m" x="376.62" y="1725.36"/>
<use href="#m" x="420.24" y="1732.87"/>
<use href="#m" x="344.6" y="1758.29"/>
<use href="#m" x="383.54" y="1739.03"/>
<use href="#m" x="381.18" y="1715.44"/>
<use href="#m" x="394.57" y="1757.86"/>
<use href="#m" x="370.02" y="1745.24"/>
<use href="#m" x="364.32" y="1713.03"/>
<use href="#m" x="405.34" y="1782.91"/>
<use href="#m" x="341.78" y="1773.62"/>
<use href="#m" x="343.82" y="1755.26"/>
<use href="#m" x="464.87" y="1751.37"/>
<use href="#m" x="383.66" y="1739.17"/>
<use href="#m" x="337.8" y="1751.26"/>
<use href="#m" x="327.23" y="1773.56"/>
<use href="#m" x="362.25" y="1731.74"/>
<use href="#m" x="414.03" y="1742.41"/>
<use href="#m" x="451.18" y="1771.07"/>
<use href="#m" x="420.84" y="1741.75"/>
<use href="#m" x="354.16" y="1678.77"/>
<use href="#m" x="379.13" y="1713.2"/>
<use href="#m" x="353.09" y="1755.69"/>
<use href="#m" x="386.56" y="1780.53"/>
<use href="#m" x="355.73" y="1742.27"/>
<use href="#m" x="388.55" y="1773.01"/>
<use href="#m" x="450.47" y="1681.91"/>
<use href="#m" x="349.86" y="1754.85"/>
<use href="#m" x="380.6" y="1757.86"/>
<use href="#m" x="371.51" y="1722.11"/>
<use href="#m" x="352.78" y="1733.75"/>
<use href="#m" x="367.7" y="1745.45"/>
<use href="#m" x="313.88" y="1724.52"/>
<use href="#m" x="372.2" y="1740.82"/>
<use href="#m" x="312.09" y="1711.66"/>
<use href="#m" x="330.64" y="1778.21"/>
<use href="#m" x="339.01" y="1707.77"/>
<use href="#m" x="403.51" y="1701.49"/>
<use href="#m" x="494.47" y="1702.64"/>
<use href="#m" x="337.58" y="1722.8"/>
<use href="#m" x="410.5" y="1752.39"/>
<use href="#m" x="343.65" y="1746.7"/>
<use href="#m" x="412.94" y="1713.6"/>
<use href="#m" x="424.91" y="1724.45"/>
<use href="#m" x="399.88" y="1805.31"/>
<use href="#m" x="354.17" y="1801.06"/>
<use href="#m" x="375.31" y="1752.69"/>
<use href="#m" x="406.37" y="1672.35"/>
<use href="#m" x="372.41" y="1763.04"/>
<use href="#m" x="397.9" y="1744.97"/>
<use href="#m" x="367.07" y="1731.58"/>
<use href="#m" x="411.9" y="1732.5"/>
<use href="#m" x="393.68" y="1735.11"/>
<use href="#m" x="369.89" y="1785.45"/>
<use href="#m" x="357.91" y="1730.28"/>
<use href="#m" x="304.61" y="1735.02"/>
<use href="#m" x="433.6" y="1726.42"/>
<use href="#m" x="351.71" y="1758.51"/>
<use href="#m" x="298.93" y="1760.61"/>
<use href="#m" x="357.26" y="1744.14"/>
<use href="#m" x="349.23" y="1741.23"/>
<use href="#m" x="350.42" y="1711.52"/>
<use href="#m" x="364.95" y="1771.04"/>
<use href="#m" x="373.69" y="1747.26"/>
<use href="#m" x="360.26" y="1747.96"/>
<use href="#m" x="328.58" y="1733.49"/>
<use href="#m" x="482.26" y="1724.71"/>
<use href="#m" x="439.92" y="1692.79"/>
<use href="#m" x="390.1" y="1715.63"/>
<use href="#m" x="357.47" y="1753.66"/>
<use href="#m" x="365.12" y="1711.23"/>
<use href="#m" x="370.65" y="1730.41"/>
<use href="#m" x="402.2" y="1760.73"/>
<use href="#m" x="330.14" y="1755.23"/>
<use href="#m" x="390.44" y="1735.16"/>
<use href="#m" x="452.96" y="1726.78"/>
<use href="#m" x="382.57" y="1739.23"/>
<use href="#m" x="414.29" y="1758.85"/>
<use href="#m" x="368.13" y="1736.31"/>
<use href="#m" x="403.9" y="1719.92"/>
<use href="#m" x="394.85" y="1747.53"/>
<use href="#m" x="381.93" y="1725.18"/>
<use href="#m" x="391.47" y="1712.44"/>
<use href="#m" x="409.14" y="1748.58"/>
<use href="#m" x="340.75" y="1803.35"/>
<use href="#m" x="397.62" y="1742.41"/>
<use href="#m" x="365.51" y="1670.73"/>
<use href="#m" x="406.89" y="1711.73"/>
<use href="#m" x="386.14" y="1729.4"/>
<use href="#m" x="413.28" y="1742.15"/>
<use href="#m" x="356.68" y="1734.83"/>
<use href="#m" x="372.51" y="1765.96"/>
<use href="#m" x="335.7" y="1786.52"/>
<use href="#m" x="439.51" y="1723.72"/>
<use href="#m" x="424.72" y="1730.52"/>
<use href="#m" x="324.8" y="1743.72"/>
<use href="#m" x="451.37" y="1717.38"/>
<use href="#m" x="392.25" y="1741.54"/>
<use href="#m" x="416.03" y="1731.38"/>
<use href="#m" x="386.19" y="1715.17"/>
<use href="#m" x="391.82" y="1736.55"/>
<use href="#m" x="419.43" y="1688.14"/>
<use href="#m" x="368.51" y="1740.43"/>
<use href="#m" x="418.76" y="1720.62"/>
<use href="#m" x="424.63" y="1735.45"/>
<use href="#m" x="351.43" y="1748.2"/>
<use href="#m" x="326.01" y="1725.09"/>
<use href="#m" x="406.86" y="1725.42"/>
<use href="#m" x="382.87" y="1780.45"/>
<use href="#m" x="393.5" y="1731.67"/>
<use href="#m" x="415.61" y="1726.33"/>
<use href="#m" x="384.63" y="1730.42"/>
<use href="#m" x="423.22" y="1729.26"/>
<use href="#m" x="373.46" y="1731.13"/>
<use href="#m" x="367.9" y="1703.39"/>
<use href="#m" x="417.23" y="1758.8"/>
<use href="#m" x="320.45" y="1761.45"/>
<use href="#m" x="364.34" y="1773.79"/>
<use href="#m" x="359.99" y="1721.9"/>
<use href="#m" x="398.44" y="1722.95"/>
<use href="#m" x="379.28" y="1722.01"/>
<use href="#m" x="368.51" y="1742.45"/>
<use href="#m" x="407.28" y="1722.87"/>
<use href="#m" x="461.93" y="1758.77"/>
<use href="#m" x="355.94" y="1729.18"/>
<use href="#m" x="427.25" y="1736.19"/>
<use href="#m" x="376.56" y="1759.29"/>
<use href="#m" x="413.97" y="1706.92"/>
<use href="#m" x="434.63" y="1753.89"/>
<use href="#m" x="361.63" y="1692.22"/>
<use href="#m" x="351.63" y="1728.63"/>
<use href="#m" x="451.09" y="1761.06"/>
<use href="#m" x="357.46" y="1750.98"/>
<use href="#m" x="365.54" y="1731.12"/>
<use href="#m" x="463.75" y="1725.96"/>
<use href="#m" x="404.11" y="1754"/>
<use href="#m" x="381.9" y="1723.45"/>
<use href="#m" x="353.96" y="1708.71"/>
<use href="#m" x="370.37" y="1724.69"/>
<use href="#m" x="440.11" y="1815.48"/>
<use href="#m" x="369.06" y="1731.14"/>
<use href="#m" x="365.5" y="1737.75"/>
<use href="#m" x="430.14" y="1717.41"/>
<use href="#m" x="425.24" y="1659.13"/>
<use href="#m" x="346.99" y="1780.17"/>
<use href="#m" x="397.2" y="1781.81"/>
<use href="#m" x="337.9" y="1740.8"/>
<use href="#m" x="362.84" y="1725.73"/>
<use href="#m" x="374.35" y="1717.78"/>
<use href="#m" x="368.44" y="1760.65"/>
<use href="#m" x="340.53" y="1789.49"/>
<use href="#m" x="333" y="1690.85"/>
<use href="#m" x="331.74" y="1743.88"/>
<use href="#m" x="411.63" y="1727.38"/>
<use href="#m" x="378.55" y="1774.7"/>
<use href="#m" x="405.21" y="1746.44"/>
<use href="#m" x="479.62" y="1704.29"/>
<use href="#m" x="507.86" y="1765.27"/>
<use href="#m" x="429.88" y="1803.77"/>
<use href="#m" x="398.34" y="1711.9"/>
<use href="#m" x="380.84" y="1737.46"/>
<use href="#m" x="409.89" y="1708.61"/>
<use href="#m" x="451.72" y="1773.09"/>
<use href="#m" x="426.64" y="1716.47"/>
<use href="#m" x="371.28" y="1760.17"/>
<use href="#m" x="398.8" y="1699.66"/>
<use href="#m" x="324.53" y="1772.44"/>
<use href="#m" x="338.55" y="1767.46"/>
<use href="#m" x="424.78" y="1727.22"/>
<use href="#m" x="450.07" y="1790.77"/>
<use href="#m" x="348.63" y="1725.88"/>
<use href="#m" x="369.87" y="1702.58"/>
<use href="#m" x="403.06" y="1741.63"/>
<use href="#m" x="418.69" y="1719.03"/>
<use href="#m" x="394.14" y="1724.96"/>
<use href="#m" x="346.03" y="1766.4"/>
<use href="#m" x="451.01" y="1718.27"/>
<use href="#m" x="434.08" y="1749.45"/>
<use href="#m" x="353.29" y="1779.97"/>
<use href="#m" x="402.09" y="1729.68"/>
<use href="#m" x="400.11" y="1731.32"/>
<use href="#m" x="431.89" y="1714.96"/>
<use href="#m" x="420.5" y="1815.82"/>
<use href="#m" x="410.53" y="1743.31"/>
<use href="#m" x="404.75" y="1732.43"/>
<use href="#m" x="335.65" y="1729.69"/>
<use href="#m" x="439.65" y="1714.65"/>
<use href="#m" x="372.44" y="1730.48"/>
<use href="#m" x="351.89" y="1713.93"/>
<use href="#m" x="458.33" y="1751.35"/>
<use href="#m" x="378.57" y="1775.04"/>
<use href="#m" x="414.49" y="1721.06"/>
<use href="#m" x="366.4" y="1789.59"/>
<use href="#m" x="377.97" y="1712.55"/>
<use href="#m" x="396.55" y="1798.04"/>
<use href="#m" x="356.59" y="1700.63"/>
<use href="#m" x="417.32" y="1731.11"/>
<use href="#m" x="374.53" y="1746.27"/>
<use href="#m" x="416.97" y="1723.77"/>
<use href="#m" x="322.06" y="1750.45"/>
<use href="#m" x="433.89" y="1714.6"/>
<use href="#m" x="488.85" y="1735.99"/>
<use href="#m" x="408.26" y="1736.77"/>
<use href="#m" x="356.52" y="1720.03"/>
<use href="#m" x="412.6" y="1677.87"/>
<use href="#m" x="369.09" y="1736.86"/>
<use href="#m" x="429.55" y="1748.33"/>
<use href="#m" x="415.68" y="1731.09"/>
<use href="#m" x="308.56" y="1713.49"/>
<use href="#m" x="323.33" y="1791.18"/>
<use href="#m" x="440.42" y="1732.71"/>
<use href="#m" x="420.45" y="1768.93"/>
<use href="#m" x="408.4" y="1755.23"/>
<use href="#m" x="400.87" y="1690.64"/>
<use href="#m" x="356.39" y="1735.02"/>
<use href="#m" x="411.67" y="1718.61"/>
<use href="#m" x="413.93" y="1728.52"/>
<use href="#m" x="411.55" y="1758.99"/>
<use href="#m" x="412.46" y="1789.86"/>
<use href="#m" x="401.28" y="1725.86"/>
<use href="#m" x="396.65" y="1743.06"/>
<use href="#m" x="360.47" y="1730.79"/>
<use href="#m" x="291.07" y="1745.69"/>
<use href="#m" x="409.31" y="1726.38"/>
<use href="#m" x="343.58" y="1706.8"/>
<use href="#m" x="301.13" y="1767.74"/>
<use href="#m" x="357.42" y="1746.03"/>
<use href="#m" x="378.11" y="1750.72"/>
<use href="#m" x="380.9" y="1741.37"/>
<use href="#m" x="320.99" y="1711.49"/>
<use href="#m" x="384.15" y="1746.04"/>
<use href="#m" x="415.74" y="1733.18"/>
<use href="#m" x="410.99" y="1735.98"/>
<use href="#m" x="331.21" y="1781.56"/>
<use href="#m" x="329.41" y="1745.34"/>
<use href="#m" x="430.62" y="1692.65"/>
<use href="#m" x="333.29" y="1726.73"/>
<use href="#m" x="331.25" y="1705.1"/>
<use href="#m" x="320.31" y="1752.3"/>
<use href="#m" x="363.85" y="1717.05"/>
<use href="#m" x="397.26" y="1714.3"/>
<use href="#m" x="410.88" y="1727.57"/>
<use href="#m" x="407.49" y="1742.18"/>
<use href="#m" x="386.77" y="1775.32"/>
<use href="#m" x="399.31" y="1766.73"/>
<use href="#m" x="362.82" y="1750.99"/>
<use href="#m" x="404.8" y="1755.77"/>
<use href="#m" x="399.87" y="1715.74"/>
<use href="#m" x="373.97" y="1767.85"/>
<use href="#m" x="444.94" y="1727.1"/>
<use href="#m" x="388.26" y="1743.27"/>
<use href="#m" x="427.09" y="1713.97"/>
<use href="#m" x="362.51" y="1749.03"/>
<use href="#m" x="401.06" y="1727.61"/>
<use href="#m" x="402.9" y="1728.97"/>
<use href="#m" x="332.98" y="1777.39"/>
<use href="#m" x="466.39" y="1710.18"/>
<use href="#m" x="463.71" y="1684.64"/>
<use href="#m" x="382.33" y="1737.36"/>
<use href="#m" x="398.37" y="1725.32"/>
<use href="#m" x="403.01" y="1743.64"/>
<use href="#m" x="375.97" y="1731.14"/>
<use href="#m" x="343.04" y="1761.5"/>
<use href="#m" x="411.72" y="1718.2"/>
<use href="#m" x="307.85" y="1718.63"/>
<use href="#m" x="415.61" y="1709.33"/>
<use href="#m" x="310.53" y="1749.6"/>
<use href="#m" x="360.31" y="1758.89"/>
<use href="#m" x="406.01" y="1772.04"/>
<use href="#m" x="385.15" y="1717.08"/>
<use href="#m" x="381.08" y="1672.86"/>
<use href="#m" x="411.81" y="1744.89"/>
<use href="#m" x="369.5" y="1719.87"/>
<use href="#m" x="423.52" y="1789.89"/>
<use href="#m" x="414.24" y="1742.48"/>
<use href="#m" x="371.24" y="1774.46"/>
<use href="#m" x="377.29" y="1729.53"/>
<use href="#m" x="370.9" y="1761.56"/>
<use href="#m" x="432.79" y="1723.33"/>
<use href="#m" x="435.18" y="1752.63"/>
<use href="#m" x="353.4" y="1739.44"/>
<use href="#m" x="384.87" y="1733.28"/>
<use href="#m" x="380.81" y="1727.97"/>
<use href="#m" x="451.8" y="1761.08"/>
<use href="#m" x="433.05" y="1715.01"/>
<use href="#m" x="368.61" y="1740.78"/>
<use href="#m" x="316.99" y="1751.88"/>
<use href="#m" x="293.54" y="1757.89"/>
<use href="#m" x="398.17" y="1711.95"/>
<use href="#m" x="322.11" y="1693.66"/>
<use href="#m" x="390.91" y="1732.72"/>
<use href="#m" x="317.91" y="1727.81"/>
<use href="#m" x="314.72" y="1763.28"/>
<use href="#m" x="378.15" y="1756.14"/>
<use href="#m" x="378.81" y="1769.68"/>
<use href="#m" x="404.5" y="1704.86"/>
<use href="#m" x="391.54" y="1729.94"/>
<use href="#m" x="328.27" y="1769.37"/>
<use href="#m" x="375.59" y="1748.79"/>
<use href="#m" x="386.59" y="1717.09"/>
<use href="#m" x="377.19" y="1750.04"/>
<use href="#m" x="344.87" y="1684.9"/>
<use href="#m" x="375.49" y="1697.21"/>
<use href="#m" x="429.81" y="1702.33"/>
<use href="#m" x="399.59" y="1740.33"/>
<use href="#m" x="379.64" y="1814.08"/>
<use href="#m" x="408.38" y="1745.42"/>
<use href="#m" x="344.18" y="1780.1"/>
<use href="#m" x="353.4" y="1776.67"/>
<use href="#m" x="385.65" y="1751.47"/>
<use href="#m" x="441.8" y="1738.25"/>
<use href="#m" x="391.09" y="1750.44"/>
<use href="#m" x="366.25" y="1737.01"/>
<use href="#m" x="445.72" y="1745.74"/>
<use href="#m" x="399.88" y="1767.72"/>
<use href="#m" x="365.22" y="1751.57"/>
<use href="#m" x="431.82" y="1736.44"/>
<use href="#m" x="375.55" y="1765.61"/>
<use href="#m" x="370.78" y="1703.59"/>
<use href="#m" x="332.04" y="1760.55"/>
<use href="#m" x="376.48" y="1746.06"/>
<use href="#m" x="390.62" y="1749.43"/>
<use href="#m" x="440.07" y="1735.02"/>
<use href="#m" x="349.28" y="1732.16"/>
<use href="#m" x="308.71" y="1730.23"/>
<use href="#m" x="391.1" y="1776.04"/>
<use href="#m" x="420.77" y="1794.21"/>
<use href="#m" x="428.6" y="1790.83"/>
<use href="#m" x="448.87" y="1784.38"/>
<use href="#m" x="412.2" y="1730.15"/>
<use href="#m" x="374.25" y="1731.32"/>
<use href="#m" x="418.08" y="1738.06"/>
<use href="#m" x="373.7" y="1761.05"/>
<use href="#m" x="447.65" y="1752.56"/>
<use href="#m" x="400.21" y="1692.04"/>
<use href="#m" x="376.74" y="1735.69"/>
<use href="#m" x="381.29" y="1773.51"/>
<use href="#m" x="332.35" y="1811.04"/>
<use href="#m" x="474.36" y="1779.9"/>
<use href="#m" x="350.65" y="1766.82"/>
<use href="#m" x="362.51" y="1787.93"/>
<use href="#m" x="373.87" y="1723.21"/>
<use href="#m" x="384.59" y="1768.91"/>
<use href="#m" x="396.06" y="1756.96"/>
<use href="#m" x="354.98" y="1751.92"/>
<use href="#m" x="382.24" y="1735.94"/>
<use href="#m" x="369.59" y="1733.69"/>
<use href="#m" x="299.13" y="1756.32"/>
<use href="#m" x="385.36" y="1736.39"/>
<use href="#m" x="332.93" y="1761.52"/>
<use href="#m" x="389.91" y="1762.22"/>
<use href="#m" x="318.96" y="1775.03"/>
<use href="#m" x="352.63" y="1727.58"/>
<use href="#m" x="393.1" y="1699.75"/>
<use href="#m" x="454.76" y="1713.51"/>
<use href="#m" x="354.5" y="1765.02"/>
<use href="#m" x="373.73" y="1761.77"/>
<use href="#m" x="412.38" y="1769.7"/>
<use href="#m" x="372.99" y="1749.11"/>
<use href="#m" x="427.43" y="1722.34"/>
<use href="#m" x="369.89" y="1748.76"/>
<use href="#m" x="348.11" y="1733.84"/>
<use href="#m" x="381.16" y="1713.96"/>
<use href="#m" x="368.16" y="1753.75"/>
<use href="#m" x="408.62" y="1728.07"/>
<use href="#m" x="377.38" y="1718.25"/>
<use href="#m" x="395.46" y="1741.88"/>
<use href="#m" x="402.26" y="1705.09"/>
<use href="#m" x="442.19" y="1712.18"/>
<use href="#m" x="363.64" y="1761.67"/>
<use href="#m" x="425.63" y="1726.52"/>
<use href="#m" x="385.58" y="1696.24"/>
<use href="#m" x="364.45" y="1716.23"/>
<use href="#m" x="318.77" y="1760.33"/>
<use href="#m" x="331.97" y="1770.16"/>
<use href="#m" x="410.6" y="1720.45"/>
<use href="#m" x="366.32" y="1696.65"/>
<use href="#m" x="363.62" y="1746.2"/>
<use href="#m" x="380.33" y="1745.17"/>
<use href="#m" x="375.1" y="1788.17"/>
<use href="#m" x="426.69" y="1722.84"/>
<use href="#m" x="376.74" y="1743.58"/>
<use href="#m" x="401.98" y="1721.09"/>
<use href="#m" x="354.34" y="1735.36"/>
<use href="#m" x="388.69" y="1792.04"/>
<use href="#m" x="458.79" y="1681.87"/>
<use href="#m" x="335.18" y="1728.64"/>
<use href="#m" x="322.45" y="1710.62"/>
<use href="#m" x="387.48" y="1706.79"/>
<use href="#m" x="351.51" y="1755.03"/>
<use href="#m" x="444.7" y="1729.21"/>
<use href="#m" x="390.96" y="1683.52"/>
<use href="#m" x="310.6" y="1739.66"/>
<use href="#m" x="366.93" y="1698.62"/>
<use href="#m" x="432.59" y="1693.1"/>
<use href="#m" x="355.95" y="1738.5"/>
<use href="#m" x="406.4" y="1733.95"/>
<use href="#m" x="389.89" y="1770.71"/>
<use href="#m" x="399.81" y="1736.19"/>
<use href="#m" x="410.99" y="1740.5"/>
<use href="#m" x="398.31" y="1734.15"/>
<use href="#m" x="388.9" y="1773.73"/>
<use href="#m" x="382.78" y="1730.21"/>
<use href="#m" x="370.08" y="1764.66"/>
<use href="#m" x="369.16" y="1696.65"/>
<use href="#m" x="362.26" y="1813.86"/>
<use href="#m" x="323.78" y="1754.74"/>
<use href="#m" x="382.03" y="1732.45"/>
<use href="#m" x="366.95" y="1735.51"/>
<use href="#m" x="387.6" y="1716.65"/>
<use href="#m" x="334.53" y="1761.21"/>
<use href="#m" x="369.19" y="1708.96"/>
<use href="#m" x="392.04" y="1776.46"/>
<use href="#m" x="427.19" y="1736.86"/>
<use href="#m" x="411.09" y="1737.88"/>
<use href="#m" x="402.87" y="1706.09"/>
<use href="#m" x="379.24" y="1702.25"/>
<use href="#m" x="396.33" y="1744.02"/>
<use href="#m" x="360.29" y="1774.21"/>
<use href="#m" x="410.49" y="1761.82"/>
<use href="#m" x="419.21" y="1724.21"/>
<use href="#m" x="367.72" y="1741.43"/>
<use href="#m" x="346.66" y="1694.88"/>
<use href="#m" x="394.33" y="1755.01"/>
<use href="#m" x="340.06" y="1759.09"/>
<use href="#m" x="380.9" y="1713.2"/>
<use href="#m" x="369.69" y="1748.23"/>
<use href="#m" x="361.09" y="1744.12"/>
<use href="#m" x="388.41" y="1740.58"/>
<use href="#m" x="381.43" y="1733.03"/>
<use href="#m" x="404.44" y="1718.92"/>
<use href="#m" x="435.55" y="1717.7"/>
<use href="#m" x="372.94" y="1745.35"/>
<use href="#m" x="378.47" y="1690.93"/>
<use href="#m" x="386.09" y="1712.42"/>
<use href="#m" x="417.42" y="1711.19"/>
<use href="#m" x="307" y="1730.28"/>
<use href="#m" x="463.41" y="1756.03"/>
<use href="#m" x="333.22" y="1739.64"/>
<use href="#m" x="365.76" y="1758.61"/>
<use href="#m" x="340.64" y="1760.94"/>
<use href="#m" x="350.02" y="1809.6"/>
<use href="#m" x="399.4" y="1674.41"/>
<use href="#m" x="482.2" y="1709.22"/>
<use href="#m" x="342.28" y="1737.18"/>
<use href="#m" x="384.18" y="1790.93"/>
<use href="#m" x="309.4" y="1717.34"/>
<use href="#m" x="345.15" y="1672.28"/>
<use href="#m" x="479.66" y="1697.5"/>
<use href="#m" x="430.32" y="1695.5"/>
<use href="#m" x="344.99" y="1793.28"/>
<use href="#m" x="391.91" y="1753.63"/>
<use href="#m" x="445.95" y="1767.17"/>
<use href="#m" x="335.99" y="1669.12"/>
<use href="#m" x="353.35" y="1766.85"/>
<use href="#m" x="334.05" y="1737.19"/>
<use href="#m" x="466.72" y="1720.99"/>
<use href="#m" x="372.81" y="1738.54"/>
<use href="#m" x="405.31" y="1746.54"/>
<use href="#m" x="388.89" y="1754.28"/>
<use href="#m" x="373.51" y="1722.96"/>
<use href="#m" x="399.5" y="1738.55"/>
<use href="#m" x="367.32" y="1702.62"/>
<use href="#m" x="356.67" y="1710.4"/>
<use href="#m" x="352.55" y="1757.47"/>
<use href="#m" x="355.95" y="1741.25"/>
<use href="#m" x="383.98" y="1749.08"/>
<use href="#m" x="381.09" y="1767.02"/>
<use href="#m" x="407.44" y="1753.26"/>
<use href="#m" x="390.48" y="1670.14"/>
<use href="#m" x="365.17" y="1823.77"/>
<use href="#m" x="374.38" y="1714.57"/>
<use href="#m" x="410.85" y="1753.11"/>
<use href="#m" x="331.35" y="1751.91"/>
<use href="#m" x="348.83" y="1726.23"/>
<use href="#m" x="362.95" y="1686.95"/>
<use href="#m" x="369.58" y="1701.48"/>
<use href="#m" x="369.79" y="1733.56"/>
<use href="#m" x="429.06" y="1739.16"/>
<use href="#m" x="353.41" y="1768.82"/>
<use href="#m" x="371.94" y="1728.96"/>
<use href="#m" x="410.57" y="1722.5"/>
<use href="#m" x="365.1" y="1757.02"/>
<use href="#m" x="372.43" y="1714.01"/>
<use href="#m" x="401.42" y="1759.57"/>
<use href="#m" x="447.99" y="1714.03"/>
<use href="#m" x="376.12" y="1703.63"/>
<use href="#m" x="435.78" y="1773.07"/>
<use href="#m" x="446.41" y="1723.17"/>
<use href="#m" x="345.43" y="1756.32"/>
<use href="#m" x="422.2" y="1727.74"/>
<use href="#m" x="319.03" y="1722.24"/>
<use href="#m" x="443.01" y="1753.32"/>
<use href="#m" x="401.27" y="1751.17"/>
<use href="#m" x="471.54" y="1768.73"/>
<use href="#m" x="380.24" y="1705.74"/>
<use href="#m" x="374.08" y="1750.54"/>
<use href="#m" x="373.46" y="1726.97"/>
<use href="#m" x="350.09" y="1740.8"/>
<use href="#m" x="319.53" y="1709.44"/>
<use href="#m" x="372.85" y="1791.68"/>
<use href="#m" x="392.15" y="1745.54"/>
<use href="#m" x="371.23" y="1776.71"/>
<use href="#m" x="330.88" y="1733.07"/>
<use href="#m" x="393.74" y="1723.43"/>
<use href="#m" x="465.38" y="1725.67"/>
<use href="#m" x="349.26" y="1699.23"/>
<use href="#m" x="384.98" y="1764.67"/>
<use href="#m" x="432.91" y="1773.52"/>
<use href="#m" x="360.63" y="1734.45"/>
<use href="#m" x="352.62" y="1708.01"/>
<use href="#m" x="348.37" y="1755.45"/>
<use href="#m" x="361.93" y="1762.03"/>
<use href="#m" x="318.49" y="1781.81"/>
<use href="#m" x="370.03" y="1768.39"/>
<use href="#m" x="387.24" y="1734.62"/>
<use href="#m" x="363.09" y="1706.96"/>
<use href="#m" x="432.97" y="1733.73"/>
<use href="#m" x="339.19" y="1725.13"/>
<use href="#m" x="366.28" y="1769.95"/>
<use href="#m" x="421.4" y="1682.1"/>
<use href="#m" x="375.66" y="1750.65"/>
<use href="#m" x="368.82" y="1675.36"/>
<use href="#m" x="364.49" y="1705.51"/>
<use href="#m" x="430.17" y="1743.12"/>
<use href="#m" x="334.95" y="1751.23"/>
<use href="#m" x="397.93" y="1733.51"/>
<use href="#m" x="300.15" y="1775.28"/>
<use href="#m" x="351.86" y="1726.36"/>
<use href="#m" x="379.4" y="1768.42"/>
<use href="#m" x="420.34" y="1746.28"/>
<use href="#m" x="301.59" y="1756.87"/>
<use href="#m" x="397.54" y="1730.57"/>
<use href="#m" x="365.48" y="1718.62"/>
<use href="#m" x="373.44" y="1818.11"/>
<use href="#m" x="426.54" y="1710.13"/>
<use href="#m" x="351.07" y="1769.3"/>
<use href="#m" x="427.35" y="1738.14"/>
<use href="#m" x="373.51" y="1762.83"/>
<use href="#m" x="378.01" y="1722.89"/>
<use href="#m" x="319.15" y="1769.89"/>
<use href="#m" x="334.18" y="1738.49"/>
<use href="#m" x="343.61" y="1718.39"/>
<use href="#m" x="370.47" y="1730.13"/>
<use href="#m" x="355.89" y="1711.57"/>
<use href="#m" x="355.78" y="1707.85"/>
<use href="#m" x="316.25" y="1748.8"/>
<use href="#m" x="429.98" y="1658.95"/>
<use href="#m" x="408.38" y="1746.63"/>
<use href="#m" x="370.9" y="1731.01"/>
<use href="#m" x="495.84" y="1699.58"/>
<use href="#m" x="422.94" y="1686.43"/>
<use href="#m" x="379.32" y="1759.61"/>
<use href="#m" x="327.76" y="1690.63"/>
<use href="#m" x="434.47" y="1765.2"/>
<use href="#m" x="380.12" y="1663.1"/>
<use href="#m" x="344.25" y="1756.75"/>
<use href="#m" x="423.98" y="1746.81"/>
<use href="#m" x="402.73" y="1707.73"/>
<use href="#m" x="415.01" y="1738.37"/>
<use href="#m" x="369.67" y="1738.19"/>
<use href="#m" x="365.9" y="1756.38"/>
<use href="#m" x="323.17" y="1745.39"/>
<use href="#m" x="350.3" y="1761.03"/>
<use href="#m" x="409.08" y="1725.43"/>
<use href="#m" x="386.11" y="1743.68"/>
<use href="#m" x="362.44" y="1722.4"/>
<use href="#m" x="360.19" y="1789.68"/>
<use href="#m" x="339.29" y="1698.15"/>
<use href="#m" x="420.05" y="1673.65"/>
<use href="#m" x="403.67" y="1710.77"/>
<use href="#m" x="332.61" y="1703.92"/>
<use href="#m" x="376.62" y="1676.32"/>
<use href="#m" x="395.85" y="1710.3"/>
<use href="#m" x="395.71" y="1746.38"/>
<use href="#m" x="382.61" y="1695.76"/>
<use href="#m" x="356.61" y="1679.73"/>
<use href="#m" x="418.83" y="1792.26"/>
<use href="#m" x="413.65" y="1692.97"/>
<use href="#m" x="386.87" y="1717.9"/>
<use href="#m" x="360.22" y="1763.71"/>
<use href="#m" x="384.65" y="1725.89"/>
<use href="#m" x="371.1" y="1735.16"/>
<use href="#m" x="388.64" y="1699.24"/>
<use href="#m" x="423.71" y="1781.9"/>
<use href="#m" x="407.16" y="1755.49"/>
<use href="#m" x="387.3" y="1700.12"/>
<use href="#m" x="416.85" y="1762.47"/>
<use href="#m" x="409.27" y="1735.04"/>
<use href="#m" x="356.77" y="1716.56"/>
<use href="#m" x="315.51" y="1728.78"/>
<use href="#m" x="340.52" y="1804.65"/>
<use href="#m" x="441.64" y="1738.74"/>
<use href="#m" x="303.84" y="1737.05"/>
<use href="#m" x="357" y="1749.91"/>
<use href="#m" x="411.77" y="1729.36"/>
<use href="#m" x="336.62" y="1751.47"/>
<use href="#m" x="385.04" y="1726.62"/>
<use href="#m" x="378.92" y="1753.53"/>
<use href="#m" x="368.08" y="1746.83"/>
<use href="#m" x="373.08" y="1775.22"/>
<use href="#m" x="361.52" y="1722.92"/>
<use href="#m" x="421.34" y="1722.57"/>
<use href="#m" x="385.34" y="1754.71"/>
<use href="#m" x="359.69" y="1720.86"/>
<use href="#m" x="420.51" y="1752.78"/>
<use href="#m" x="365.03" y="1715.95"/>
<use href="#m" x="374.17" y="1733.3"/>
<use href="#m" x="464.78" y="1812.8"/>
<use href="#m" x="354.51" y="1719.13"/>
<use href="#m" x="406.34" y="1713.03"/>
<use href="#m" x="399.09" y="1715.16"/>
<use href="#m" x="344.41" y="1771.03"/>
<use href="#m" x="349.42" y="1759.74"/>
<use href="#m" x="349.91" y="1734.34"/>
<use href="#m" x="422.93" y="1769.86"/>
<use href="#m" x="334.2" y="1751.44"/>
<use href="#m" x="394.52" y="1686.85"/>
<use href="#m" x="368.5" y="1754.67"/>
<use href="#m" x="360.11" y="1733.47"/>
<use href="#m" x="391.34" y="1740.25"/>
<use href="#m" x="375.96" y="1760.53"/>
<use href="#m" x="385.34" y="1802.31"/>
<use href="#m" x="369.2" y="1760.7"/>
<use href="#m" x="431.77" y="1701.34"/>
<use href="#m" x="399.56" y="1722.08"/>
<use href="#m" x="459.61" y="1769.9"/>
<use href="#m" x="339.13" y="1803.92"/>
<use href="#m" x="363.33" y="1787.78"/>
<use href="#m" x="445.72" y="1763.14"/>
<use href="#m" x="442.07" y="1693.93"/>
<use href="#m" x="413.94" y="1749.04"/>
<use href="#m" x="363.79" y="1760.64"/>
<use href="#m" x="396.58" y="1699.97"/>
<use href="#m" x="367.87" y="1787.63"/>
<use href="#m" x="356.17" y="1722.94"/>
<use href="#m" x="301.01" y="1727.21"/>
<use href="#m" x="449.01" y="1686.14"/>
<use href="#m" x="464.12" y="1710.4"/>
<use href="#m" x="342.66" y="1732.53"/>
<use href="#m" x="387.92" y="1760.38"/>
<use href="#m" x="391.29" y="1766.91"/>
<use href="#m" x="409.79" y="1755.06"/>
<use href="#m" x="437.37" y="1742.37"/>
<use href="#m" x="355.32" y="1743.94"/>
<use href="#m" x="431.61" y="1746.05"/>
<use href="#m" x="358.07" y="1767.45"/>
<use href="#m" x="363.29" y="1758.1"/>
<use href="#m" x="400.37" y="1720.53"/>
<use href="#m" x="449.77" y="1791.91"/>
<use href="#m" x="396.42" y="1691.38"/>
<use href="#m" x="388.48" y="1698.59"/>
<use href="#m" x="400.49" y="1726.94"/>
<use href="#m" x="398.04" y="1729.84"/>
<use href="#m" x="369.11" y="1690.29"/>
<use href="#m" x="355.39" y="1771.46"/>
<use href="#m" x="355.56" y="1774.16"/>
<use href="#m" x="379.37" y="1781.42"/>
<use href="#m" x="334.07" y="1696.11"/>
<use href="#m" x="380.75" y="1719.28"/>
<use href="#m" x="394.69" y="1748.75"/>
<use href="#m" x="413.36" y="1736.24"/>
<use href="#m" x="298.85" y="1718.82"/>
<use href="#m" x="364.4" y="1720.57"/>
<use href="#m" x="432.23" y="1749.59"/>
<use href="#m" x="407.38" y="1700.31"/>
<use href="#m" x="374.5" y="1776.73"/>
<use href="#m" x="389.72" y="1752.32"/>
<use href="#m" x="373.12" y="1780.57"/>
<use href="#m" x="346.71" y="1714"/>
<use href="#m" x="444.71" y="1755.2"/>
<use href="#m" x="386.94" y="1707.44"/>
<use href="#m" x="428.02" y="1692.82"/>
<use href="#m" x="399.36" y="1760.84"/>
<use href="#m" x="398.59" y="1741.79"/>
<use href="#m" x="405.44" y="1762.49"/>
<use href="#m" x="489.3" y="1741.05"/>
<use href="#m" x="377.32" y="1766.74"/>
<use href="#m" x="357.39" y="1692.24"/>
<use href="#m" x="430.85" y="1731.99"/>
<use href="#m" x="327.95" y="1777.35"/>
<use href="#m" x="346.54" y="1761.68"/>
<use href="#m" x="434.45" y="1765.77"/>
<use href="#m" x="360.14" y="1812.26"/>
<use href="#m" x="356.59" y="1737.49"/>
<use href="#m" x="404.63" y="1743.68"/>
<use href="#m" x="410.48" y="1779.77"/>
<use href="#m" x="409.8" y="1709"/>
<use href="#m" x="336.06" y="1688.47"/>
<use href="#m" x="344.01" y="1771.95"/>
<use href="#m" x="305.37" y="1762.09"/>
<use href="#m" x="383.81" y="1715.32"/>
<use href="#m" x="462.93" y="1712.96"/>
<use href="#m" x="292.03" y="1765.93"/>
<use href="#m" x="335.56" y="1775.62"/>
<use href="#m" x="462.04" y="1749.02"/>
<use href="#m" x="396.59" y="1768.39"/>
<use href="#m" x="370.02" y="1755.78"/>
<use href="#m" x="303.52" y="1761.04"/>
<use href="#m" x="444.6" y="1771.2"/>
<use href="#m" x="362.97" y="1666.33"/>
<use href="#m" x="351.97" y="1744.62"/>
<use href="#m" x="381.2" y="1730.06"/>
<use href="#m" x="387.12" y="1724.41"/>
<use href="#m" x="388.34" y="1735.14"/>
<use href="#m" x="411.69" y="1721.92"/>
<use href="#m" x="423.88" y="1728.76"/>
<use href="#m" x="373.73" y="1704.19"/>
<use href="#m" x="414.66" y="1695.52"/>
<use href="#m" x="372.36" y="1717.03"/>
<use href="#m" x="399.87" y="1754.28"/>
<use href="#m" x="460.37" y="1763.44"/>
<use href="#m" x="353.7" y="1736.11"/>
<use href="#m" x="305.88" y="1779.9"/>
<use href="#m" x="406.45" y="1706.64"/>
<use href="#m" x="394.87" y="1716.5"/>
<use href="#m" x="414.48" y="1734.2"/>
<use href="#m" x="322.89" y="1741.33"/>
<use href="#m" x="364.88" y="1764.18"/>
<use href="#m" x="357.39" y="1747.46"/>
<use href="#m" x="299.58" y="1704.9"/>
<use href="#m" x="366.07" y="1750.11"/>
<use href="#m" x="376.84" y="1738.36"/>
<use href="#m" x="329.46" y="1728.95"/>
<use href="#m" x="438.4" y="1809.03"/>
<use href="#m" x="397.03" y="1713.3"/>
<use href="#m" x="385.49" y="1752.86"/>
<use href="#m" x="437.5" y="1700.3"/>
<use href="#m" x="392.9" y="1707.96"/>
<use href="#m" x="463.64" y="1723.8"/>
<use href="#m" x="342.88" y="1747.76"/>
<use href="#m" x="428.8" y="1822.07"/>
<use href="#m" x="420.38" y="1731.87"/>
<use href="#m" x="353.67" y="1758.34"/>
<use href="#m" x="426.64" y="1804.43"/>
<use href="#m" x="339.27" y="1673.18"/>
<use href="#m" x="360.3" y="1741.5"/>
<use href="#m" x="299.98" y="1745.99"/>
<use href="#m" x="395.52" y="1697.71"/>
<use href="#m" x="398.64" y="1735.93"/>
<use href="#m" x="416.49" y="1726.73"/>
<use href="#m" x="393.89" y="1699.09"/>
<use href="#m" x="400.57" y="1745.66"/>
<use href="#m" x="334.65" y="1764.95"/>
<use href="#m" x="399.73" y="1717.78"/>
<use href="#m" x="428.73" y="1745.33"/>
<use href="#m" x="411.49" y="1781.4"/>
<use href="#m" x="403.1" y="1770.27"/>
<use href="#m" x="409.92" y="1704.18"/>
<use href="#m" x="383.77" y="1721.25"/>
<use href="#m" x="314.6" y="1733.64"/>
<use href="#m" x="393.96" y="1729.37"/>
<use href="#m" x="374.1" y="1762"/>
<use href="#m" x="389.03" y="1747.79"/>
<use href="#m" x="383.96" y="1720.72"/>
<use href="#m" x="385.88" y="1717.73"/>
<use href="#m" x="438.12" y="1701.65"/>
<use href="#m" x="354.03" y="1743.25"/>
<use href="#m" x="454.28" y="1762.99"/>
<use href="#m" x="351.78" y="1712.78"/>
<use href="#m" x="380.83" y="1715.97"/>
<use href="#m" x="336.3" y="1714.25"/>
<use href="#m" x="363.43" y="1735.64"/>
<use href="#m" x="331.71" y="1715.51"/>
<use href="#m" x="377.17" y="1720.54"/>
<use href="#m" x="379.6" y="1753.96"/>
<use href="#m" x="409.08" y="1756.46"/>
<use href="#m" x="404.25" y="1724.8"/>
<use href="#m" x="421.56" y="1755.71"/>
<use href="#m" x="363.94" y="1728.84"/>
<use href="#m" x="376.17" y="1732.72"/>
<use href="#m" x="437.61" y="1764.33"/>
<use href="#m" x="470.61" y="1706.89"/>
<use href="#m" x="378.15" y="1723.05"/>
<use href="#m" x="420.12" y="1733.61"/>
<use href="#m" x="450.19" y="1715.02"/>
<use href="#m" x="389.93" y="1786.71"/>
<use href="#m" x="348.48" y="1743.98"/>
<use href="#m" x="483.34" y="1704.22"/>
<use href="#m" x="401.6" y="1750.29"/>
<use href="#m" x="336.76" y="1737.54"/>
<use href="#m" x="366.15" y="1732.93"/>
<use href="#m" x="330.42" y="1745.69"/>
<use href="#m" x="363.93" y="1748.58"/>
<use href="#m" x="394.47" y="1698.5"/>
<use href="#m" x="381.1" y="1730.14"/>
<use href="#m" x="358.55" y="1742.77"/>
<use href="#m" x="402.75" y="1750.8"/>
<use href="#m" x="336.24" y="1712.57"/>
<use href="#m" x="443.28" y="1772.34"/>
<use href="#m" x="371.03" y="1738.62"/>
<use href="#m" x="363.16" y="1743.75"/>
<use href="#m" x="343.79" y="1740.81"/>
<use href="#m" x="349.16" y="1760.74"/>
<use href="#m" x="317.13" y="1785.12"/>
<use href="#m" x="365.85" y="1703.98"/>
<use href="#m" x="404.44" y="1704.64"/>
<use href="#m" x="390.2" y="1727.33"/>
<use href="#m" x="312.16" y="1761.87"/>
<use href="#m" x="424.41" y="1787.91"/>
<use href="#m" x="357.68" y="1699.3"/>
<use href="#m" x="384.39" y="1673.21"/>
<use href="#m" x="425.44" y="1729.05"/>
<use href="#m" x="429.2" y="1769.89"/>
<use href="#m" x="403.14" y="1785.95"/>
<use href="#m" x="390.58" y="1753.03"/>
<use href="#m" x="374.58" y="1785.28"/>
<use href="#m" x="342.99" y="1746.44"/>
<use href="#m" x="394.54" y="1754.11"/>
<use href="#m" x="354.18" y="1724.74"/>
<use href="#m" x="401.65" y="1721.21"/>
<use href="#m" x="378.91" y="1734.27"/>
<use href="#m" x="405.22" y="1744.9"/>
<use href="#m" x="385.71" y="1731.06"/>
<use href="#m" x="450.18" y="1699.27"/>
<use href="#m" x="384.09" y="1731.46"/>
<use href="#m" x="369.46" y="1711.54"/>
<use href="#m" x="371.17" y="1758.85"/>
<use href="#m" x="404.24" y="1711.45"/>
<use href="#m" x="445.54" y="1763.06"/>
<use href="#m" x="350.24" y="1734.78"/>
<use href="#m" x="343.67" y="1717.02"/>
<use href="#m" x="371.96" y="1724.35"/>
<use href="#m" x="398.51" y="1753.53"/>
<use href="#m" x="379.87" y="1749.38"/>
<use href="#m" x="389.57" y="1756.04"/>
<use href="#m" x="345.5" y="1712.28"/>
<use href="#m" x="434.89" y="1722.29"/>
<use href="#m" x="378.19" y="1719.26"/>
<use href="#m" x="406.82" y="1784.6"/>
<use href="#m" x="374.7" y="1827.7"/>
<use href="#m" x="362.82" y="1790"/>
<use href="#m" x="320.34" y="1745.03"/>
<use href="#m" x="494.61" y="1742.12"/>
<use href="#m" x="430.06" y="1767.55"/>
<use href="#m" x="418.37" y="1715.34"/>
<use href="#m" x="365.78" y="1713.01"/>
<use href="#m" x="337.69" y="1771.89"/>
<use href="#m" x="356.37" y="1707.27"/>
<use href="#m" x="354.28" y="1678.98"/>
<use href="#m" x="414.71" y="1735.48"/>
<use href="#m" x="321.32" y="1758.27"/>
<use href="#m" x="351.58" y="1729.71"/>
<use href="#m" x="379.24" y="1771.25"/>
<use href="#m" x="495.91" y="1733.15"/>
<use href="#m" x="380.26" y="1698.78"/>
<use href="#m" x="355.27" y="1781.06"/>
<use href="#m" x="337.14" y="1792.13"/>
<use href="#m" x="307.67" y="1757.5"/>
<use href="#m" x="383.21" y="1749.27"/>
<use href="#m" x="374.54" y="1743.67"/>
<use href="#m" x="412.04" y="1689.38"/>
<use href="#m" x="337.41" y="1735"/>
<use href="#m" x="292.93" y="1755.27"/>
<use href="#m" x="389.95" y="1723.78"/>
<use href="#m" x="467.63" y="1734.1"/>
<use href="#m" x="498.96" y="1716.99"/>
<use href="#m" x="410.05" y="1692.9"/>
<use href="#m" x="345.56" y="1764.91"/>
<use href="#m" x="388.18" y="1712.01"/>
<use href="#m" x="365.64" y="1677.09"/>
<use href="#m" x="482.09" y="1723.29"/>
<use href="#m" x="319.3" y="1703.58"/>
<use href="#m" x="397.68" y="1749.66"/>
<use href="#m" x="346.35" y="1738.99"/>
<use href="#m" x="414.67" y="1688.2"/>
<use href="#m" x="345.11" y="1714.18"/>
<use href="#m" x="434.2" y="1759.2"/>
<use href="#m" x="373.99" y="1736.69"/>
<use href="#m" x="464.23" y="1749.04"/>
<use href="#m" x="441.97" y="1761.93"/>
<use href="#m" x="465.26" y="1726.34"/>
<use href="#m" x="339.96" y="1753.71"/>
<use href="#m" x="369.14" y="1722.96"/>
<use href="#m" x="358.8" y="1725.37"/>
<use href="#m" x="385.61" y="1674.26"/>
<use href="#m" x="388.45" y="1763.54"/>
<use href="#m" x="358.1" y="1751.63"/>
<use href="#m" x="302.56" y="1700.92"/>
<use href="#m" x="447.07" y="1775.28"/>
<use href="#m" x="402.87" y="1727.11"/>
<use href="#m" x="398.03" y="1739.41"/>
<use href="#m" x="340.45" y="1783.48"/>
<use href="#m" x="343.19" y="1739.74"/>
<use href="#m" x="422.58" y="1760.59"/>
<use href="#m" x="345.75" y="1759.91"/>
<use href="#m" x="511.24" y="1750.07"/>
<use href="#m" x="366.93" y="1732.28"/>
<use href="#m" x="488.41" y="1695.02"/>
<use href="#m" x="323.57" y="1781.45"/>
<use href="#m" x="366.36" y="1803.98"/>
<use href="#m" x="374.48" y="1739.18"/>
<use href="#m" x="365.24" y="1760.5"/>
<use href="#m" x="397.59" y="1757.17"/>
<use href="#m" x="413.55" y="1821.95"/>
<use href="#m" x="350.17" y="1754.6"/>
<use href="#m" x="402.75" y="1730.9"/>
<use href="#m" x="387.23" y="1777.62"/>
<use href="#m" x="351.21" y="1753.73"/>
<use href="#m" x="383.63" y="1717.68"/>
<use href="#m" x="404.8" y="1754.32"/>
<use href="#m" x="402.79" y="1757.14"/>
<use href="#m" x="311.31" y="1777.04"/>
<use href="#m" x="409.33" y="1729.74"/>
<use href="#m" x="391.14" y="1767.07"/>
<use href="#m" x="409.48" y="1696.13"/>
<use href="#m" x="335.4" y="1757.62"/>
<use href="#m" x="434.41" y="1714.95"/>
<use href="#m" x="488.99" y="1701.41"/>
<use href="#m" x="358.03" y="1767.8"/>
<use href="#m" x="406.35" y="1729.14"/>
<use href="#m" x="359.28" y="1751.91"/>
<use href="#m" x="390.92" y="1728.32"/>
<use href="#m" x="474.19" y="1723.88"/>
<use href="#m" x="379.46" y="1762.48"/>
<use href="#m" x="392.87" y="1683.56"/>
<use href="#m" x="436.92" y="1748.48"/>
<use href="#m" x="309.07" y="1767.55"/>
<use href="#m" x="468.95" y="1757.12"/>
<use href="#m" x="435.22" y="1693.89"/>
<use href="#m" x="423.2" y="1711.54"/>
<use href="#m" x="400.24" y="1764.6"/>
<use href="#m" x="385.78" y="1727.77"/>
<use href="#m" x="368.27" y="1733.63"/>
<use href="#m" x="377" y="1727.44"/>
<use href="#m" x="391.6" y="1676.34"/>
<use href="#m" x="347.93" y="1757.75"/>
<use href="#m" x="356.71" y="1751.41"/>
<use href="#m" x="359.62" y="1706.73"/>
<use href="#m" x="388.83" y="1726.92"/>
<use href="#m" x="407.67" y="1684.62"/>
<use href="#m" x="312.57" y="1733.8"/>
<use href="#m" x="421.9" y="1750.7"/>
<use href="#m" x="310.22" y="1692.72"/>
<use href="#m" x="400.12" y="1719.21"/>
<use href="#m" x="427.47" y="1781.03"/>
<use href="#m" x="462.59" y="1765.71"/>
<use href="#m" x="304.69" y="1765.46"/>
<use href="#m" x="391.13" y="1737.95"/>
<use href="#m" x="318.66" y="1700.61"/>
<use href="#m" x="416.94" y="1764.37"/>
<use href="#m" x="365.25" y="1750.71"/>
<use href="#m" x="450.82" y="1686.03"/>
<use href="#m" x="368.15" y="1754.53"/>
<use href="#m" x="391.33" y="1785.02"/>
<use href="#m" x="335.3" y="1798.01"/>
<use href="#m" x="412.36" y="1738.8"/>
<use href="#m" x="436.84" y="1732.02"/>
<use href="#m" x="349.39" y="1734.68"/>
<use href="#m" x="431.24" y="1734.62"/>
<use href="#m" x="409.83" y="1724.29"/>
<use href="#m" x="375.32" y="1787.06"/>
<use href="#m" x="346.43" y="1760.59"/>
<use href="#m" x="413.15" y="1742.67"/>
<use href="#m" x="400.63" y="1736.26"/>
<use href="#m" x="393.27" y="1725.49"/>
<use href="#m" x="418.54" y="1753.31"/>
<use href="#m" x="355.99" y="1745.62"/>
<use href="#m" x="371.95" y="1787.77"/>
<use href="#m" x="391.6" y="1738.55"/>
<use href="#m" x="450.31" y="1728.68"/>
<use href="#m" x="366.16" y="1724.6"/>
<use href="#m" x="480.5" y="1760.8"/>
<use href="#m" x="430.13" y="1749.15"/>
<use href="#m" x="396.58" y="1728.66"/>
<use href="#m" x="351.5" y="1718.57"/>
<use href="#m" x="411.09" y="1728.4"/>
<use href="#m" x="427.12" y="1771.64"/>
<use href="#m" x="344.21" y="1753"/>
<use href="#m" x="356.47" y="1743.1"/>
<use href="#m" x="400.79" y="1657.23"/>
<use href="#m" x="418.77" y="1737.21"/>
<use href="#m" x="348.64" y="1765.36"/>
<use href="#m" x="364.53" y="1709.14"/>
<use href="#m" x="404.93" y="1723.43"/>
<use href="#m" x="344.02" y="1747.44"/>
<use href="#m" x="401.5" y="1770.09"/>
<use href="#m" x="392.52" y="1728.82"/>
<use href="#m" x="342.2" y="1766.14"/>
<use href="#m" x="423" y="1775.4"/>
<use href="#m" x="399.65" y="1728.89"/>
<use href="#m" x="464.85" y="1712.03"/>
<use href="#m" x="417.78" y="1735.2"/>
<use href="#m" x="325.77" y="1721.67"/>
<use href="#m" x="375.69" y="1733.89"/>
<use href="#m" x="395.55" y="1720.77"/>
<use href="#m" x="372.46" y="1692.95"/>
<use href="#m" x="402.1" y="1745.41"/>
<use href="#m" x="371.5" y="1748.67"/>
<use href="#m" x="371.07" y="1720.54"/>
<use href="#m" x="471.21" y="1752.1"/>
<use href="#m" x="460.35" y="1739.6"/>
<use href="#m" x="344.04" y="1733.42"/>
<use href="#m" x="344.31" y="1766.93"/>
<use href="#m" x="314.52" y="1763.87"/>
<use href="#m" x="412.91" y="1761.08"/>
<use href="#m" x="356.7" y="1706.92"/>
<use href="#m" x="396.08" y="1730.78"/>
<use href="#m" x="395.14" y="1764.27"/>
<use href="#m" x="448.93" y="1742.85"/>
<use href="#m" x="394.29" y="1745.34"/>
<use href="#m" x="390.35" y="1748.32"/>
<use href="#m" x="372.17" y="1746.99"/>
<use href="#m" x="375.6" y="1798.1"/>
<use href="#m" x="342.68" y="1710.53"/>
<use href="#m" x="434.4" y="1729.1"/>
<use href="#m" x="359.78" y="1744.7"/>
<use href="#m" x="340.86" y="1721.38"/>
<use href="#m" x="358.51" y="1711.46"/>
<use href="#m" x="460.62" y="1713.88"/>
<use href="#m" x="371.93" y="1746.37"/>
<use href="#m" x="339.59" y="1769.9"/>
<use href="#m" x="478.08" y="1745.47"/>
<use href="#m" x="405.46" y="1743.04"/>
<use href="#m" x="377.2" y="1735.1"/>
<use href="#m" x="360.89" y="1741.67"/>
<use href="#m" x="333.17" y="1731.78"/>
<use href="#m" x="404.53" y="1806.26"/>
<use href="#m" x="335.29" y="1753.77"/>
<use href="#m" x="358.62" y="1718.52"/>
<use href="#m" x="408.33" y="1729.27"/>
<use href="#m" x="383.59" y="1804.54"/>
<use href="#m" x="375.95" y="1742.31"/>
<use href="#m" x="408.53" y="1775.51"/>
<use href="#m" x="453.49" y="1707.94"/>
<use href="#m" x="360.63" y="1734.38"/>
<use href="#m" x="442.63" y="1752.56"/>
<use href="#m" x="377.71" y="1703.87"/>
<use href="#m" x="385.51" y="1742.11"/>
<use href="#m" x="389.72" y="1739.53"/>
<use href="#m" x="362.27" y="1722.25"/>
<use href="#m" x="404.48" y="1742.23"/>
<use href="#m" x="391.74" y="1746.74"/>
<use href="#m" x="341.51" y="1757.84"/>
<use href="#m" x="405.96" y="1771.78"/>
<use href="#m" x="396.41" y="1686.78"/>
<use href="#m" x="424.9" y="1738.69"/>
<use href="#m" x="299.41" y="1756.51"/>
<use href="#m" x="334.34" y="1723.04"/>
<use href="#m" x="415.05" y="1739.44"/>
<use href="#m" x="382.43" y="1770.64"/>
<use href="#m" x="445.22" y="1723.03"/>
<use href="#m" x="406.44" y="1773.41"/>
<use href="#m" x="474.41" y="1683.16"/>
<use href="#m" x="437.89" y="1710.13"/>
<use href="#m" x="360.98" y="1805.37"/>
<use href="#m" x="324.53" y="1715.81"/>
<use href="#m" x="476.85" y="1745.61"/>
<use href="#m" x="453.09" y="1724.93"/>
<use href="#m" x="449.34" y="1683.63"/>
<use href="#m" x="365.4" y="1733.6"/>
<use href="#m" x="332.32" y="1731.22"/>
<use href="#m" x="390.83" y="1657.7"/>
<use href="#m" x="391.17" y="1733.19"/>
<use href="#m" x="318.65" y="1710.79"/>
<use href="#m" x="444.5" y="1717.84"/>
<use href="#m" x="383.34" y="1708.05"/>
<use href="#m" x="381.59" y="1756.7"/>
<use href="#m" x="391.97" y="1756.34"/>
<use href="#m" x="351.6" y="1747.31"/>
<use href="#m" x="343.85" y="1731.18"/>
<use href="#m" x="299.01" y="1739.13"/>
<use href="#m" x="352.7" y="1726.1"/>
<use href="#m" x="362.27" y="1711.68"/>
<use href="#m" x="426.47" y="1697.3"/>
<use href="#m" x="478.3" y="1738.17"/>
<use href="#m" x="328.62" y="1739.77"/>
<use href="#m" x="428.95" y="1725.36"/>
<use href="#m" x="355.37" y="1768.95"/>
<use href="#m" x="321.6" y="1796.35"/>
<use href="#m" x="335.37" y="1738.87"/>
<use href="#m" x="397.41" y="1687.94"/>
<use href="#m" x="359.46" y="1714.69"/>
<use href="#m" x="406.93" y="1728.57"/>
<use href="#m" x="432.95" y="1697.73"/>
<use href="#m" x="470.61" y="1709.32"/>
<use href="#m" x="370.23" y="1736.76"/>
<use href="#m" x="304.86" y="1743.76"/>
<use href="#m" x="325.86" y="1705.34"/>
<use href="#m" x="389.66" y="1749.33"/>
<use href="#m" x="409.29" y="1703.54"/>
<use href="#m" x="332.23" y="1723.29"/>
<use href="#m" x="473.18" y="1692.08"/>
<use href="#m" x="402.24" y="1748.19"/>
<use href="#m" x="411.51" y="1771.19"/>
<use href="#m" x="372.37" y="1745.27"/>
<use href="#m" x="371.22" y="1706.88"/>
<use href="#m" x="369.42" y="1755.28"/>
<use href="#m" x="376.4" y="1752.18"/>
<use href="#m" x="364.4" y="1772.62"/>
<use href="#m" x="444.24" y="1730.03"/>
<use href="#m" x="408.4" y="1756.44"/>
<use href="#m" x="406.35" y="1717.68"/>
<use href="#m" x="430.17" y="1734.32"/>
<use href="#m" x="328.76" y="1710.13"/>
<use href="#m" x="410.6" y="1697.98"/>
<use href="#m" x="393.73" y="1776.61"/>
<use href="#m" x="410.75" y="1710.96"/>
<use href="#m" x="343.02" y="1685.47"/>
<use href="#m" x="381.5" y="1740.81"/>
<use href="#m" x="459.47" y="1777.5"/>
<use href="#m" x="371.62" y="1753.3"/>
<use href="#m" x="402.08" y="1798.43"/>
<use href="#m" x="337.86" y="1813.65"/>
<use href="#m" x="420.16" y="1722.87"/>
<use href="#m" x="398.68" y="1696.54"/>
<use href="#m" x="320.04" y="1782.23"/>
<use href="#m" x="418.04" y="1779.03"/>
<use href="#m" x="349.01" y="1738.63"/>
<use href="#m" x="428.69" y="1718.01"/>
<use href="#m" x="406.06" y="1724.8"/>
<use href="#m" x="386.6" y="1759.97"/>
<use href="#m" x="376.21" y="1726.42"/>
<use href="#m" x="381.74" y="1752.21"/>
<use href="#m" x="420.05" y="1725.07"/>
<use href="#m" x="444.19" y="1719.36"/>
<use href="#m" x="457.77" y="1749.52"/>
<use href="#m" x="367.23" y="1751.63"/>
<use href="#m" x="380.71" y="1727.67"/>
<use href="#m" x="392.87" y="1711.58"/>
<use href="#m" x="362.49" y="1731.93"/>
<use href="#m" x="335.71" y="1762.57"/>
<use href="#m" x="359.63" y="1730.28"/>
<use href="#m" x="377.84" y="1755.44"/>
<use href="#m" x="371.55" y="1755.81"/>
<use href="#m" x="356.12" y="1745.53"/>
<use href="#m" x="436.69" y="1756.42"/>
<use href="#m" x="429.88" y="1778.03"/>
<use href="#m" x="367.68" y="1759.17"/>
<use href="#m" x="449.93" y="1792.59"/>
<use href="#m" x="348.4" y="1754.4"/>
<use href="#m" x="327.6" y="1766.19"/>
<use href="#m" x="392.38" y="1803.95"/>
<use href="#m" x="355.62" y="1764.26"/>
<use href="#m" x="382.73" y="1725.8"/>
<use href="#m" x="431" y="1713.4"/>
<use href="#m" x="421.97" y="1711.5"/>
<use href="#m" x="483.2" y="1722.91"/>
<use href="#m" x="436.5" y="1768.87"/>
<use href="#m" x="385.91" y="1752.67"/>
<use href="#m" x="343.24" y="1812.48"/>
<use href="#m" x="390.22" y="1716.31"/>
<use href="#m" x="350.1" y="1767.78"/>
<use href="#m" x="390.87" y="1776.02"/>
<use href="#m" x="390.27" y="1769.37"/>
<use href="#m" x="380.12" y="1719.32"/>
<use href="#m" x="365.48" y="1758.93"/>
<use href="#m" x="422.45" y="1748.15"/>
<use href="#m" x="355.32" y="1728.64"/>
<use href="#m" x="388.69" y="1741.35"/>
<use href="#m" x="351.86" y="1752.05"/>
<use href="#m" x="363.79" y="1712.95"/>
<use href="#m" x="367.41" y="1726.41"/>
<use href="#m" x="412.64" y="1758.29"/>
<use href="#m" x="386.12" y="1745.63"/>
<use href="#m" x="394.1" y="1762.7"/>
<use href="#m" x="396.63" y="1751.79"/>
<use href="#m" x="391.84" y="1772.74"/>
<use href="#m" x="387.36" y="1693.18"/>
<use href="#m" x="332.02" y="1708.86"/>
<use href="#m" x="399.67" y="1750.97"/>
<use href="#m" x="380.87" y="1737.22"/>
<use href="#m" x="327.3" y="1742.39"/>
<use href="#m" x="345.02" y="1722.31"/>
<use href="#m" x="402.2" y="1736.41"/>
<use href="#m" x="471.97" y="1691.92"/>
<use href="#m" x="394.04" y="1791.43"/>
<use href="#m" x="391.77" y="1751.12"/>
<use href="#m" x="309.12" y="1731.62"/>
<use href="#m" x="364.67" y="1739.71"/>
<use href="#m" x="340.12" y="1725.93"/>
<use href="#m" x="332.96" y="1713.7"/>
<use href="#m" x="388.29" y="1679.8"/>
<use href="#m" x="377.23" y="1738.62"/>
<use href="#m" x="417.47" y="1705.26"/>
<use href="#m" x="329.56" y="1751.22"/>
<use href="#m" x="371.92" y="1739.86"/>
<use href="#m" x="420.19" y="1726.73"/>
<use href="#m" x="394.45" y="1717.54"/>
<use href="#m" x="443.37" y="1753.13"/>
<use href="#m" x="436.18" y="1740.72"/>
<use href="#m" x="371.37" y="1705.2"/>
<use href="#m" x="394.36" y="1788.18"/>
<use href="#m" x="413.17" y="1657.29"/>
<use href="#m" x="419.54" y="1731.34"/>
<use href="#m" x="364.87" y="1761.49"/>
<use href="#m" x="467.25" y="1768.47"/>
<use href="#m" x="480.6" y="1708.67"/>
<use href="#m" x="366.31" y="1724.34"/>
<use href="#m" x="354.26" y="1721.65"/>
<use href="#m" x="417.42" y="1731.23"/>
<use href="#m" x="440.02" y="1774.54"/>
<use href="#m" x="360.19" y="1769"/>
<use href="#m" x="345.89" y="1745.94"/>
<use href="#m" x="343.35" y="1736.62"/>
<use href="#m" x="377.69" y="1726.37"/>
<use href="#m" x="379.51" y="1776.55"/>
<use href="#m" x="390.61" y="1779.52"/>
<use href="#m" x="385.52" y="1734.56"/>
<use href="#m" x="451.42" y="1770.88"/>
<use href="#m" x="402.47" y="1740.98"/>
<use href="#m" x="407.68" y="1741.85"/>
<use href="#m" x="421.66" y="1751.55"/>
<use href="#m" x="488.81" y="1694.55"/>
<use href="#m" x="399.03" y="1753.35"/>
<use href="#m" x="359.06" y="1754.09"/>
<use href="#m" x="392.56" y="1730.25"/>
<use href="#m" x="383.1" y="1748.47"/>
<use href="#m" x="390.64" y="1753.92"/>
<use href="#m" x="414.11" y="1699.6"/>
<use href="#m" x="410.58" y="1727.59"/>
<use href="#m" x="387.66" y="1713.82"/>
<use href="#m" x="394.31" y="1737.49"/>
<use href="#m" x="371.87" y="1698.53"/>
<use href="#m" x="306.57" y="1691.49"/>
<use href="#m" x="425.72" y="1743.9"/>
<use href="#m" x="460.12" y="1785.41"/>
<use href="#m" x="404.6" y="1772.37"/>
<use href="#m" x="396.38" y="1736.16"/>
<use href="#m" x="338" y="1748.73"/>
<use href="#m" x="395.99" y="1758.74"/>
<use href="#m" x="358.33" y="1747.75"/>
<use href="#m" x="404.82" y="1699.49"/>
<use href="#m" x="386.71" y="1726.09"/>
<use href="#m" x="349.29" y="1783"/>
<use href="#m" x="460.09" y="1731.92"/>
<use href="#m" x="429.27" y="1726.49"/>
<use href="#m" x="351.16" y="1729.51"/>
<use href="#m" x="373.58" y="1687.63"/>
<use href="#m" x="374.45" y="1725.32"/>
<use href="#m" x="458.01" y="1742.26"/>
<use href="#m" x="412.93" y="1739.38"/>
<use href="#m" x="314.83" y="1727.85"/>
<use href="#m" x="423.44" y="1732.81"/>
<use href="#m" x="420.86" y="1754.14"/>
<use href="#m" x="400.44" y="1764.38"/>
<use href="#m" x="367" y="1814.08"/>
<use href="#m" x="414.22" y="1766.32"/>
<use href="#m" x="377.42" y="1772.73"/>
<use href="#m" x="367.43" y="1694.36"/>
<use href="#m" x="368.94" y="1763.75"/>
<use href="#m" x="378.15" y="1739.37"/>
<use href="#m" x="308.66" y="1759.72"/>
<use href="#m" x="413.63" y="1758.49"/>
<use href="#m" x="395.37" y="1703.58"/>
<use href="#m" x="383.68" y="1731.2"/>
<use href="#m" x="466.89" y="1712.2"/>
<use href="#m" x="310.81" y="1740.5"/>
<use href="#m" x="411.92" y="1692.33"/>
<use href="#m" x="406.71" y="1736.55"/>
<use href="#m" x="384.1" y="1751.05"/>
<use href="#m" x="378.41" y="1721.6"/>
<use href="#m" x="378.13" y="1760.33"/>
<use href="#m" x="413.67" y="1742.38"/>
<use href="#m" x="392.61" y="1723.85"/>
<use href="#m" x="418.4" y="1777.83"/>
<use href="#m" x="368.12" y="1722.22"/>
<use href="#m" x="336.12" y="1692.01"/>
<use href="#m" x="402.52" y="1742.24"/>
<use href="#m" x="374.26" y="1692.8"/>
<use href="#m" x="386.63" y="1718.51"/>
<use href="#m" x="369.52" y="1747.22"/>
<use href="#m" x="341.39" y="1746.07"/>
<use href="#m" x="397.83" y="1722.81"/>
<use href="#m" x="420.19" y="1740.25"/>
<use href="#m" x="456.94" y="1793.31"/>
<use href="#m" x="424.9" y="1745.6"/>
<use href="#m" x="395.56" y="1735.94"/>
<use href="#m" x="354.04" y="1733.98"/>
<use href="#m" x="423.46" y="1738.32"/>
<use href="#m" x="373.51" y="1794.72"/>
<use href="#m" x="359.21" y="1748.54"/>
<use href="#m" x="362.72" y="1750.13"/>
<use href="#m" x="455.16" y="1771.38"/>
<use href="#m" x="379.21" y="1708.77"/>
<use href="#m" x="378.1" y="1735.81"/>
<use href="#m" x="372.66" y="1730.6"/>
<use href="#m" x="353.97" y="1771.72"/>
<use href="#m" x="334.2" y="1759.09"/>
<use href="#m" x="357.16" y="1743.46"/>
<use href="#m" x="370.54" y="1714.26"/>
<use href="#m" x="387.27" y="1731.02"/>
<use href="#m" x="406.11" y="1712.83"/>
<use href="#m" x="406.32" y="1738.27"/>
<use href="#m" x="373.68" y="1752"/>
<use href="#m" x="343.52" y="1767.24"/>
<use href="#m" x="381.79" y="1758.51"/>
<use href="#m" x="371.99" y="1763.14"/>
<use href="#m" x="359.62" y="1818.29"/>
<use href="#m" x="362.59" y="1713.14"/>
<use href="#m" x="405.04" y="1702.46"/>
<use href="#m" x="356.09" y="1759.66"/>
<use href="#m" x="366.14" y="1721.48"/>
<use href="#m" x="407.73" y="1716.6"/>
<use href="#m" x="343.26" y="1740.26"/>
<use href="#m" x="366.32" y="1700.93"/>
<use href="#m" x="295.25" y="1748.64"/>
<use href="#m" x="341.56" y="1721.94"/>
<use href="#m" x="386.8" y="1785.43"/>
<use href="#m" x="344.73" y="1738.94"/>
<use href="#m" x="366.17" y="1749.88"/>
<use href="#m" x="388.55" y="1714.1"/>
<use href="#m" x="368.81" y="1685.84"/>
<use href="#m" x="378.48" y="1729.08"/>
<use href="#m" x="314.17" y="1774.96"/>
<use href="#m" x="330.51" y="1763.67"/>
<use href="#m" x="363.65" y="1757.22"/>
<use href="#m" x="386.83" y="1699.77"/>
<use href="#m" x="309.31" y="1752.53"/>
<use href="#m" x="391.71" y="1739.64"/>
<use href="#m" x="368.81" y="1700.13"/>
<use href="#m" x="418.85" y="1740.21"/>
<use href="#m" x="438.36" y="1731.41"/>
<use href="#m" x="387.32" y="1732.76"/>
<use href="#m" x="352.03" y="1781.54"/>
<use href="#m" x="321.42" y="1764.17"/>
<use href="#m" x="331.49" y="1779.83"/>
<use href="#m" x="381.63" y="1709.47"/>
<use href="#m" x="371.84" y="1755.05"/>
<use href="#m" x="412.53" y="1669.41"/>
<use href="#m" x="429.84" y="1769.42"/>
<use href="#m" x="425.9" y="1702.6"/>
<use href="#m" x="374.96" y="1733.62"/>
<use href="#m" x="332.54" y="1760.25"/>
<use href="#m" x="423.79" y="1754.47"/>
<use href="#m" x="409.77" y="1775.83"/>
<use href="#m" x="332.18" y="1734.21"/>
<use href="#m" x="375.9" y="1752.81"/>
<use href="#m" x="397.86" y="1742"/>
<use href="#m" x="337.66" y="1729.25"/>
<use href="#m" x="394.37" y="1705.29"/>
<use href="#m" x="410.58" y="1735.53"/>
<use href="#m" x="377.19" y="1763.55"/>
<use href="#m" x="364.24" y="1746.87"/>
<use href="#m" x="471.48" y="1749.58"/>
<use href="#m" x="345.78" y="1718.61"/>
<use href="#m" x="448.87" y="1792.64"/>
<use href="#m" x="455.02" y="1739.28"/>
<use href="#m" x="393.94" y="1710.5"/>
<use href="#m" x="385.69" y="1766.82"/>
<use href="#m" x="413.53" y="1699.21"/>
<use href="#m" x="409.96" y="1769.95"/>
<use href="#m" x="333.48" y="1737.59"/>
<use href="#m" x="427.17" y="1714.82"/>
<use href="#m" x="314.78" y="1750.03"/>
<use href="#m" x="370.05" y="1746.46"/>
<use href="#m" x="355.07" y="1760.97"/>
<use href="#m" x="396.23" y="1694.93"/>
<use href="#m" x="374.78" y="1705.71"/>
<use href="#m" x="339.95" y="1715"/>
<use href="#m" x="355.99" y="1760.57"/>
<use href="#m" x="364.61" y="1733.44"/>
<use href="#m" x="372.84" y="1758.4"/>
<use href="#m" x="402.88" y="1707.76"/>
<use href="#m" x="371.17" y="1745.07"/>
<use href="#m" x="366.19" y="1731.32"/>
<use href="#m" x="395.62" y="1692.65"/>
<use href="#m" x="367.77" y="1720.88"/>
<use href="#m" x="361.4" y="1753.34"/>
<use href="#m" x="397.19" y="1745.74"/>
<use href="#m" x="350.28" y="1769.56"/>
<use href="#m" x="343.62" y="1681.55"/>
<use href="#m" x="324.34" y="1683.63"/>
<use href="#m" x="342.62" y="1779.15"/>
<use href="#m" x="298.15" y="1773.29"/>
<use href="#m" x="411.52" y="1731.1"/>
<use href="#m" x="379.57" y="1678.46"/>
<use href="#m" x="332.33" y="1690.47"/>
<use href="#m" x="352.26" y="1736.83"/>
<use href="#m" x="380.68" y="1754.8"/>
<use href="#m" x="411.27" y="1747.29"/>
<use href="#m" x="423.89" y="1729.72"/>
<use href="#m" x="332.18" y="1748.96"/>
<use href="#m" x="343.64" y="1757.82"/>
<use href="#m" x="359.46" y="1740.22"/>
<use href="#m" x="337.09" y="1786.6"/>
<use href="#m" x="418.91" y="1730.51"/>
<use href="#m" x="412.57" y="1761.17"/>
<use href="#m" x="440.59" y="1720.32"/>
<use href="#m" x="410.49" y="1746.03"/>
<use href="#m" x="375.49" y="1729.12"/>
<use href="#m" x="385.88" y="1732.84"/>
<use href="#m" x="404.18" y="1771.87"/>
<use href="#m" x="412.79" y="1721.05"/>
<use href="#m" x="318.09" y="1727.26"/>
<use href="#m" x="344.81" y="1743.88"/>
<use href="#m" x="454.17" y="1716.84"/>
<use href="#m" x="397.67" y="1753.81"/>
<use href="#m" x="413.84" y="1740.26"/>
<use href="#m" x="392.14" y="1718.3"/>
<use href="#m" x="430.64" y="1746.32"/>
<use href="#m" x="464.1" y="1693.52"/>
<use href="#m" x="405.13" y="1724.16"/>
<use href="#m" x="349.75" y="1758.77"/>
<use href="#m" x="359.05" y="1751.72"/>
<use href="#m" x="380.03" y="1692.74"/>
<use href="#m" x="348.08" y="1806.14"/>
<use href="#m" x="396.25" y="1737.6"/>
<use href="#m" x="371.15" y="1670.15"/>
<use href="#m" x="359.27" y="1752.24"/>
<use href="#m" x="398.58" y="1777.74"/>
<use href="#m" x="366.37" y="1737.39"/>
<use href="#m" x="372.01" y="1786.26"/>
<use href="#m" x="393.94" y="1767.42"/>
<use href="#m" x="423.28" y="1720.37"/>
<use href="#m" x="364.91" y="1770.3"/>
<use href="#m" x="370.56" y="1761.17"/>
<use href="#m" x="379.09" y="1709.19"/>
<use href="#m" x="320.95" y="1705.2"/>
<use href="#m" x="326.21" y="1774.2"/>
<use href="#m" x="411.04" y="1725.19"/>
<use href="#m" x="313.2" y="1741.13"/>
<use href="#m" x="396.72" y="1688.29"/>
<use href="#m" x="342.49" y="1743.03"/>
<use href="#m" x="381.58" y="1782.92"/>
<use href="#m" x="324.28" y="1757.14"/>
<use href="#m" x="414.18" y="1736.41"/>
<use href="#m" x="382.78" y="1726.62"/>
<use href="#m" x="401.26" y="1726.93"/>
<use href="#m" x="373.25" y="1759.07"/>
<use href="#m" x="370.71" y="1715.3"/>
<use href="#m" x="322.71" y="1793.33"/>
<use href="#m" x="359.54" y="1739.89"/>
<use href="#m" x="333.66" y="1747.12"/>
<use href="#m" x="364.24" y="1789.02"/>
<use href="#m" x="408.03" y="1756.22"/>
<use href="#m" x="459.4" y="1729.23"/>
<use href="#m" x="437.58" y="1727.27"/>
<use href="#m" x="495.51" y="1771.86"/>
<use href="#m" x="342.06" y="1785.64"/>
<use href="#m" x="345.44" y="1759.28"/>
<use href="#m" x="394.59" y="1743.47"/>
<use href="#m" x="374" y="1777.48"/>
<use href="#m" x="395.37" y="1749.53"/>
<use href="#m" x="446.46" y="1727.7"/>
<use href="#m" x="349.75" y="1755.33"/>
<use href="#m" x="382.61" y="1727.02"/>
<use href="#m" x="330.09" y="1723.8"/>
<use href="#m" x="437.65" y="1727.32"/>
<use href="#m" x="373.92" y="1722.58"/>
<use href="#m" x="369.73" y="1772.22"/>
<use href="#m" x="320.96" y="1747.94"/>
<use href="#m" x="352.75" y="1734.59"/>
<use href="#m" x="443.93" y="1747.97"/>
<use href="#m" x="407.13" y="1750.57"/>
<use href="#m" x="381.98" y="1743.67"/>
<use href="#m" x="466.96" y="1673.04"/>
<use href="#m" x="423.58" y="1713.88"/>
<use href="#m" x="377.28" y="1750.23"/>
<use href="#m" x="412.08" y="1772.19"/>
<use href="#m" x="337.15" y="1820.09"/>
<use href="#m" x="338.76" y="1733.48"/>
<use href="#m" x="405.51" y="1704.06"/>
<use href="#m" x="387.68" y="1714.98"/>
<use href="#m" x="414.73" y="1741.66"/>
<use href="#m" x="338.81" y="1740.23"/>
<use href="#m" x="325.05" y="1773.95"/>
<use href="#m" x="362.5" y="1718.6"/>
<use href="#m" x="292.94" y="1736.89"/>
<use href="#m" x="310.08" y="1786.26"/>
<use href="#m" x="389.34" y="1723.4"/>
<use href="#m" x="369.23" y="1692.86"/>
<use href="#m" x="436.64" y="1724.78"/>
<use href="#m" x="408.42" y="1733.09"/>
<use href="#m" x="338.07" y="1738.64"/>
<use href="#m" x="423.9" y="1755.03"/>
<use href="#m" x="368.56" y="1728.8"/>
<use href="#m" x="393.94" y="1751.62"/>
<use href="#m" x="414.24" y="1726.89"/>
<use href="#m" x="360.92" y="1756.33"/>
<use href="#m" x="402.56" y="1688.76"/>
<use href="#m" x="447.75" y="1746.56"/>
<use href="#m" x="424.45" y="1746.3"/>
<use href="#m" x="356.6" y="1677.09"/>
<use href="#m" x="502.59" y="1742.17"/>
<use href="#m" x="432.97" y="1720.92"/>
<use href="#m" x="453.22" y="1761.65"/>
<use href="#m" x="453.14" y="1699.57"/>
<use href="#m" x="398.1" y="1829.83"/>
<use href="#m" x="384.04" y="1736.54"/>
<use href="#m" x="299.94" y="1732.07"/>
<use href="#m" x="407.36" y="1699.99"/>
<use href="#m" x="332.79" y="1674.14"/>
<use href="#m" x="343.15" y="1752.89"/>
<use href="#m" x="442.63" y="1745.58"/>
<use href="#m" x="337.57" y="1748.72"/>
<use href="#m" x="405.42" y="1718.38"/>
<use href="#m" x="399.38" y="1763.33"/>
<use href="#m" x="373.77" y="1737.03"/>
<use href="#m" x="382.05" y="1771.14"/>
<use href="#m" x="428.78" y="1768.93"/>
<use href="#m" x="380.39" y="1780.32"/>
<use href="#m" x="361.83" y="1721.54"/>
<use href="#m" x="406.57" y="1705.77"/>
<use href="#m" x="418.87" y="1726.59"/>
<use href="#m" x="395.55" y="1761.58"/>
<use href="#m" x="336.67" y="1762.69"/>
<use href="#m" x="328.28" y="1761.14"/>
<use href="#m" x="356.36" y="1757.01"/>
<use href="#m" x="452.62" y="1763.81"/>
<use href="#m" x="393.43" y="1746.18"/>
<use href="#m" x="364.95" y="1712.49"/>
<use href="#m" x="311.88" y="1770.74"/>
<use href="#m" x="329.41" y="1684.75"/>
<use href="#m" x="337.62" y="1763.19"/>
<use href="#m" x="445.07" y="1703.46"/>
<use href="#m" x="400.09" y="1705.47"/>
<use href="#m" x="373.24" y="1735.87"/>
<use href="#m" x="361" y="1754.93"/>
<use href="#m" x="370.57" y="1721.93"/>
<use href="#m" x="355.15" y="1749.26"/>
<use href="#m" x="447" y="1721.84"/>
<use href="#m" x="413.83" y="1747.11"/>
<use href="#m" x="369.8" y="1742.45"/>
<use href="#m" x="353.31" y="1750.33"/>
<use href="#m" x="365.17" y="1752.82"/>
<use href="#m" x="398.52" y="1712"/>
<use href="#m" x="397.29" y="1782.47"/>
<use href="#m" x="397.06" y="1691.86"/>
<use href="#m" x="304.2" y="1747.56"/>
<use href="#m" x="348.1" y="1739.32"/>
<use href="#m" x="497.49" y="1743.01"/>
<use href="#m" x="311.86" y="1767.18"/>
<use href="#m" x="428.48" y="1728.24"/>
<use href="#m" x="391.87" y="1746.54"/>
<use href="#m" x="379.53" y="1751.83"/>
<use href="#m" x="304.56" y="1735.41"/>
<use href="#m" x="392.96" y="1734.11"/>
<use href="#m" x="389.97" y="1770.27"/>
<use href="#m" x="316.78" y="1740.92"/>
<use href="#m" x="389.57" y="1735.21"/>
<use href="#m" x="345.56" y="1681.9"/>
<use href="#m" x="328.61" y="1733.87"/>
<use href="#m" x="364.5" y="1758.95"/>
<use href="#m" x="425.1" y="1724.81"/>
<use href="#m" x="328.26" y="1753.14"/>
<use href="#m" x="420.97" y="1697.3"/>
<use href="#m" x="364.83" y="1747.16"/>
<use href="#m" x="480.55" y="1710.27"/>
<use href="#m" x="365.89" y="1732.85"/>
<use href="#m" x="414.14" y="1742.4"/>
<use href="#m" x="347.45" y="1721.68"/>
<use href="#m" x="433.23" y="1730.25"/>
<use href="#m" x="447.06" y="1775.24"/>
<use href="#m" x="379.35" y="1776"/>
<use href="#m" x="331.73" y="1761.68"/>
<use href="#m" x="399.84" y="1768.77"/>
<use href="#m" x="401.53" y="1752.64"/>
<use href="#m" x="420.38" y="1723.96"/>
<use href="#m" x="355.2" y="1730.65"/>
<use href="#m" x="378.33" y="1728.35"/>
<use href="#m" x="406.78" y="1751.55"/>
<use href="#m" x="404.71" y="1730.73"/>
<use href="#m" x="324.94" y="1778.42"/>
<use href="#m" x="438.14" y="1781.35"/>
<use href="#m" x="368.88" y="1742.9"/>
<use href="#m" x="407.75" y="1823.18"/>
<use href="#m" x="375.88" y="1727.58"/>
<use href="#m" x="375.1" y="1743.09"/>
<use href="#m" x="406.28" y="1762.7"/>
<use href="#m" x="441.75" y="1701.53"/>
<use href="#m" x="316.88" y="1784.52"/>
<use href="#m" x="482.31" y="1759.45"/>
<use href="#m" x="401" y="1768.43"/>
<use href="#m" x="409.59" y="1751.24"/>
<use href="#m" x="385.66" y="1741.8"/>
<use href="#m" x="346.21" y="1739.79"/>
<use href="#m" x="419.8" y="1722.95"/>
<use href="#m" x="384.3" y="1747.07"/>
<use href="#m" x="349.04" y="1699.47"/>
<use href="#m" x="347.82" y="1714.68"/>
<use href="#m" x="365.51" y="1732.59"/>
<use href="#m" x="308.55" y="1742.28"/>
<use href="#m" x="399.76" y="1727.76"/>
<use href="#m" x="407.51" y="1724.92"/>
<use href="#m" x="347.69" y="1740.27"/>
<use href="#m" x="416.4" y="1730.43"/>
<use href="#m" x="474.71" y="1729.2"/>
<use href="#m" x="379.64" y="1729.68"/>
<use href="#m" x="358.58" y="1761.15"/>
<use href="#m" x="364.43" y="1782.16"/>
<use href="#m" x="339.44" y="1713.76"/>
<use href="#m" x="393.13" y="1670.64"/>
<use href="#m" x="399.52" y="1718.27"/>
<use href="#m" x="398.53" y="1775.51"/>
<use href="#m" x="309.88" y="1781.43"/>
<use href="#m" x="407.96" y="1804.03"/>
<use href="#m" x="449.1" y="1736.33"/>
<use href="#m" x="380.14" y="1750.85"/>
<use href="#m" x="335.83" y="1745.44"/>
<use href="#m" x="406.36" y="1761.63"/>
<use href="#m" x="476.27" y="1788.2"/>
<use href="#m" x="348.55" y="1722.62"/>
<use href="#m" x="341.55" y="1736.22"/>
<use href="#m" x="399.54" y="1743.93"/>
<use href="#m" x="388.6" y="1716.66"/>
<use href="#m" x="404.35" y="1737.07"/>
<use href="#m" x="354.56" y="1744.41"/>
<use href="#m" x="480.26" y="1734.97"/>
<use href="#m" x="386.07" y="1754.25"/>
<use href="#m" x="396.5" y="1713.04"/>
<use href="#m" x="331.22" y="1811.47"/>
<use href="#m" x="440.99" y="1762.87"/>
<use href="#m" x="389.67" y="1750.24"/>
<use href="#m" x="378.99" y="1692.13"/>
<use href="#m" x="415.78" y="1718.91"/>
<use href="#m" x="360.59" y="1715.28"/>
<use href="#m" x="382.89" y="1716.78"/>
<use href="#m" x="345.12" y="1793.69"/>
<use href="#m" x="470.57" y="1742.14"/>
<use href="#m" x="433.49" y="1738.58"/>
<use href="#m" x="433.27" y="1767.6"/>
<use href="#m" x="366.98" y="1732.04"/>
<use href="#m" x="350.59" y="1804.16"/>
<use href="#m" x="369.33" y="1793.89"/>
<use href="#m" x="357.54" y="1733.6"/>
<use href="#m" x="446.56" y="1722.58"/>
<use href="#m" x="430.12" y="1754"/>
<use href="#m" x="334.31" y="1747.65"/>
<use href="#m" x="372.54" y="1742.24"/>
<use href="#m" x="377.88" y="1723.59"/>
<use href="#m" x="333.5" y="1808.56"/>
<use href="#m" x="336.66" y="1715.76"/>
<use href="#m" x="382.15" y="1727.42"/>
<use href="#m" x="343.32" y="1727.12"/>
<use href="#m" x="329.17" y="1747.09"/>
<use href="#m" x="355.86" y="1728.54"/>
<use href="#m" x="349.33" y="1752.54"/>
<use href="#m" x="405.29" y="1663.15"/>
<use href="#m" x="339.67" y="1754.94"/>
<use href="#m" x="392.85" y="1739.82"/>
<use href="#m" x="294.32" y="1752.53"/>
<use href="#m" x="352" y="1729.98"/>
<use href="#m" x="405.11" y="1748.37"/>
<use href="#m" x="412.59" y="1732.8"/>
<use href="#m" x="369.15" y="1730.07"/>
<use href="#m" x="367.3" y="1716.92"/>
<use href="#m" x="346.72" y="1763.58"/>
<use href="#m" x="349.85" y="1725.52"/>
<use href="#m" x="399.9" y="1760.09"/>
<use href="#m" x="326.85" y="1769.77"/>
<use href="#m" x="394.4" y="1767.16"/>
<use href="#m" x="453.52" y="1747.06"/>
<use href="#m" x="388.45" y="1752.83"/>
<use href="#m" x="339.82" y="1774.6"/>
<use href="#m" x="411.96" y="1717.4"/>
<use href="#m" x="380.61" y="1743.42"/>
<use href="#m" x="400.88" y="1682.43"/>
<use href="#m" x="374.64" y="1761.71"/>
<use href="#m" x="400.95" y="1721.12"/>
<use href="#m" x="359.36" y="1777.33"/>
<use href="#m" x="355.95" y="1772.3"/>
<use href="#m" x="348.25" y="1707.13"/>
<use href="#m" x="425.9" y="1745.69"/>
<use href="#m" x="329" y="1741.45"/>
<use href="#m" x="372.03" y="1714.13"/>
<use href="#m" x="372.63" y="1762.56"/>
<use href="#m" x="415.95" y="1745.51"/>
<use href="#m" x="468.54" y="1701.4"/>
<use href="#m" x="354.4" y="1743.79"/>
<use href="#m" x="307.78" y="1704.75"/>
<use href="#m" x="406.42" y="1789.5"/>
<use href="#m" x="361.81" y="1779.7"/>
<use href="#m" x="340.24" y="1748.37"/>
<use href="#m" x="440.4" y="1668.99"/>
<use href="#m" x="351.16" y="1709.65"/>
<use href="#m" x="405.22" y="1741.09"/>
<use href="#m" x="310.54" y="1763.5"/>
<use href="#m" x="312.22" y="1736.56"/>
<use href="#m" x="426.2" y="1727.86"/>
<use href="#m" x="349.62" y="1788.36"/>
<use href="#m" x="392.88" y="1776.48"/>
<use href="#m" x="445.89" y="1696.01"/>
<use href="#m" x="328.13" y="1748.45"/>
<use href="#m" x="351.94" y="1755.04"/>
<use href="#m" x="423.22" y="1685.36"/>
<use href="#m" x="411.75" y="1716.55"/>
<use href="#m" x="396.29" y="1765.94"/>
<use href="#m" x="352.54" y="1698.19"/>
<use href="#m" x="382.93" y="1755.08"/>
<use href="#m" x="399.05" y="1745.28"/>
<use href="#m" x="396.37" y="1752.12"/>
<use href="#m" x="431.76" y="1770.63"/>
<use href="#m" x="357.59" y="1767.33"/>
<use href="#m" x="362.61" y="1760.11"/>
<use href="#m" x="402.49" y="1713.52"/>
<use href="#m" x="348.47" y="1701.73"/>
<use href="#m" x="368.75" y="1756.82"/>
<use href="#m" x="408.29" y="1736.44"/>
<use href="#m" x="402.27" y="1728.31"/>
<use href="#m" x="339.69" y="1737.01"/>
<use href="#m" x="396.82" y="1703.24"/>
<use href="#m" x="337.11" y="1784.73"/>
<use href="#m" x="390.09" y="1749.32"/>
<use href="#m" x="345.09" y="1772.88"/>
<use href="#m" x="408.85" y="1743.13"/>
<use href="#m" x="352.86" y="1762.77"/>
<use href="#m" x="397.86" y="1733.03"/>
<use href="#m" x="438.97" y="1732.55"/>
<use href="#m" x="336.27" y="1752.68"/>
<use href="#m" x="414.43" y="1748.5"/>
<use href="#m" x="343.77" y="1731.05"/>
<use href="#m" x="333.79" y="1744.73"/>
<use href="#m" x="416.99" y="1769.61"/>
<use href="#m" x="378.87" y="1744.19"/>
<use href="#m" x="388.23" y="1778.99"/>
<use href="#m" x="341.25" y="1723.84"/>
<use href="#m" x="386.81" y="1740.45"/>
<use href="#m" x="400.65" y="1709.77"/>
<use href="#m" x="364.54" y="1753.17"/>
<use href="#m" x="401.04" y="1763.73"/>
<use href="#m" x="381.74" y="1771.62"/>
<use href="#m" x="356.17" y="1721.99"/>
<use href="#m" x="363.87" y="1755.76"/>
<use href="#m" x="336.82" y="1744.64"/>
<use href="#m" x="372.05" y="1696.62"/>
<use href="#m" x="364.46" y="1762.26"/>
<use href="#m" x="410.82" y="1705.72"/>
<use href="#m" x="364.44" y="1735.99"/>
<use href="#m" x="388.67" y="1711.11"/>
<use href="#m" x="449.53" y="1717.33"/>
<use href="#m" x="414.97" y="1797.77"/>
<use href="#m" x="407.5" y="1739.72"/>
<use href="#m" x="380.58" y="1729.22"/>
<use href="#m" x="362.86" y="1763.89"/>
<use href="#m" x="419.73" y="1741.15"/>
<use href="#m" x="354.17" y="1783.51"/>
<use href="#m" x="396.06" y="1708.18"/>
<use href="#m" x="342.93" y="1698.16"/>
<use href="#m" x="450.07" y="1765.97"/>
<use href="#m" x="351.7" y="1801.97"/>
<use href="#m" x="390.69" y="1691.69"/>
<use href="#m" x="425.21" y="1757.48"/>
<use href="#m" x="423.28" y="1705.66"/>
<use href="#m" x="401.85" y="1763.51"/>
<use href="#m" x="402.61" y="1713.22"/>
<use href="#m" x="364.34" y="1722.3"/>
<use href="#m" x="327.71" y="1723.59"/>
<use href="#m" x="332.51" y="1742.41"/>
<use href="#m" x="390.16" y="1738.33"/>
<use href="#m" x="388.51" y="1715.46"/>
<use href="#m" x="459.71" y="1804.48"/>
<use href="#m" x="321.72" y="1695.39"/>
<use href="#m" x="358.56" y="1709.31"/>
<use href="#m" x="387.12" y="1769.15"/>
<use href="#m" x="397.25" y="1751.06"/>
<use href="#m" x="402.43" y="1658.95"/>
<use href="#m" x="341.39" y="1773.6"/>
<use href="#m" x="366.59" y="1750.01"/>
<use href="#m" x="419.39" y="1760.02"/>
<use href="#m" x="380.67" y="1776.28"/>
<use href="#m" x="414.27" y="1715.38"/>
<use href="#m" x="448.41" y="1733.42"/>
<use href="#m" x="427.36" y="1746.99"/>
<use href="#m" x="480.76" y="1702.93"/>
<use href="#m" x="288.99" y="1742.24"/>
<use href="#m" x="326.58" y="1677.19"/>
<use href="#m" x="371.09" y="1740.2"/>
<use href="#m" x="388.55" y="1737.15"/>
<use href="#m" x="357.81" y="1774.33"/>
<use href="#m" x="376.33" y="1712.36"/>
<use href="#m" x="392.12" y="1711.53"/>
<use href="#m" x="430.89" y="1689.8"/>
<use href="#m" x="474.66" y="1726.45"/>
<use href="#m" x="436" y="1709.41"/>
<use href="#m" x="408.04" y="1737.3"/>
<use href="#m" x="400.75" y="1776.12"/>
<use href="#m" x="365.48" y="1762.51"/>
<use href="#m" x="435.9" y="1717.02"/>
<use href="#m" x="383.56" y="1775.3"/>
<use href="#m" x="368.27" y="1753.96"/>
<use href="#m" x="358.69" y="1694.19"/>
<use href="#m" x="358.77" y="1741.42"/>
<use href="#m" x="407.36" y="1714.79"/>
<use href="#m" x="320.33" y="1760.57"/>
<use href="#m" x="426.7" y="1725.56"/>
<use href="#m" x="396.15" y="1751.27"/>
<use href="#m" x="393.97" y="1742.58"/>
<use href="#m" x="339.26" y="1727.9"/>
<use href="#m" x="509.49" y="1717.65"/>
<use href="#m" x="352.88" y="1713.06"/>
<use href="#m" x="390.03" y="1735.03"/>
<use href="#m" x="402.06" y="1739.9"/>
<use href="#m" x="398.41" y="1725.88"/>
<use href="#m" x="417.46" y="1734.76"/>
<use href="#m" x="343.41" y="1770.53"/>
<use href="#m" x="428.11" y="1753.68"/>
<use href="#m" x="379.87" y="1725.15"/>
<use href="#m" x="404.78" y="1719.82"/>
<use href="#m" x="391.78" y="1745.92"/>
<use href="#m" x="476.13" y="1787.92"/>
<use href="#m" x="394.77" y="1745.82"/>
<use href="#m" x="334.07" y="1714.17"/>
<use href="#m" x="385.5" y="1740.94"/>
<use href="#m" x="412.62" y="1718.88"/>
<use href="#m" x="351.08" y="1767.06"/>
<use href="#m" x="387.39" y="1679.34"/>
<use href="#m" x="356.49" y="1769.21"/>
<use href="#m" x="291.35" y="1716.65"/>
<use href="#m" x="349.35" y="1808.23"/>
<use href="#m" x="331.18" y="1757.65"/>
<use href="#m" x="357.53" y="1745.3"/>
<use href="#m" x="395.95" y="1695.73"/>
<use href="#m" x="407.79" y="1759.72"/>
<use href="#m" x="405.39" y="1736.99"/>
<use href="#m" x="346.81" y="1757"/>
<use href="#m" x="365.06" y="1688.12"/>
<use href="#m" x="477.49" y="1784.45"/>
<use href="#m" x="462.02" y="1746.98"/>
<use href="#m" x="408.07" y="1731.9"/>
<use href="#m" x="303.41" y="1729.52"/>
<use href="#m" x="418.34" y="1714.54"/>
<use href="#m" x="333.24" y="1811.04"/>
<use href="#m" x="347.5" y="1690.24"/>
<use href="#m" x="309.89" y="1748.17"/>
<use href="#m" x="339.74" y="1779.56"/>
<use href="#m" x="441.96" y="1760.86"/>
<use href="#m" x="354.01" y="1700.05"/>
<use href="#m" x="420.83" y="1584.35"/>
<use href="#m" x="487.2" y="1582.43"/>
<use href="#m" x="555.5" y="1604.65"/>
<use href="#m" x="386.54" y="1622.47"/>
<use href="#m" x="412.6" y="1626.86"/>
<use href="#m" x="423.02" y="1632.9"/>
<use href="#m" x="461.42" y="1630.43"/>
<use href="#m" x="450.17" y="1638.11"/>
<use href="#m" x="373.65" y="1649.63"/>
<use href="#m" x="392.02" y="1644.14"/>
<use href="#m" x="407.66" y="1651.55"/>
<use href="#m" x="432.62" y="1648.26"/>
<use href="#m" x="447.43" y="1656.49"/>
<use href="#m" x="464.71" y="1660.33"/>
<use href="#m" x="511.07" y="1655.66"/>
<use href="#m" x="546.45" y="1664.17"/>
<use href="#m" x="345.12" y="1656.49"/>
<use href="#m" x="360.48" y="1656.49"/>
<use href="#m" x="333.05" y="1664.72"/>
<use href="#m" x="520.67" y="1673.49"/>
<use href="#m" x="528.35" y="1675.69"/>
<use href="#m" x="474.86" y="1673.49"/>
<use href="#m" x="507.77" y="1683.37"/>
<use href="#m" x="526.97" y="1689.4"/>
<use href="#m" x="473.49" y="1683.37"/>
<use href="#m" x="293.01" y="1677.06"/>
<use href="#m" x="299.86" y="1686.11"/>
<use href="#m" x="293.83" y="1699.55"/>
<use href="#m" x="302.06" y="1697.63"/>
<use href="#m" x="508.32" y="1693.52"/>
<use href="#m" x="521.76" y="1700.37"/>
<use href="#m" x="505.03" y="1704.49"/>
<use href="#m" x="483.91" y="1701.74"/>
<use href="#m" x="512.44" y="1714.64"/>
<use href="#m" x="495.43" y="1715.46"/>
<use href="#m" x="515.18" y="1725.06"/>
<use href="#m" x="530.27" y="1729.17"/>
<use href="#m" x="575.52" y="1728.35"/>
<use href="#m" x="288.89" y="1719.02"/>
<use href="#m" x="208.8" y="1716.83"/>
<use href="#m" x="631.75" y="1760.44"/>
<use href="#m" x="526.97" y="1744.26"/>
<use href="#m" x="521.49" y="1751.12"/>
<use href="#m" x="503.66" y="1752.49"/>
<use href="#m" x="286.42" y="1743.71"/>
<use href="#m" x="297.94" y="1756.6"/>
<use href="#m" x="280.12" y="1761.26"/>
<use href="#m" x="247.2" y="1760.17"/>
<use href="#m" x="214.83" y="1773.06"/>
<use href="#m" x="259.54" y="1785.95"/>
<use href="#m" x="300.14" y="1785.95"/>
<use href="#m" x="311.11" y="1779.92"/>
<use href="#m" x="491.32" y="1768.94"/>
<use href="#m" x="505.03" y="1771.69"/>
<use href="#m" x="513.26" y="1766.2"/>
<use href="#m" x="522.86" y="1764.83"/>
<use href="#m" x="545.63" y="1787.6"/>
<use href="#m" x="547.55" y="1789.52"/>
<use href="#m" x="487.2" y="1788.14"/>
<use href="#m" x="503.66" y="1793.08"/>
<use href="#m" x="466.63" y="1807.35"/>
<use href="#m" x="505.58" y="1813.38"/>
<use href="#m" x="556.87" y="1812.83"/>
<use href="#m" x="475.68" y="1828.74"/>
<use href="#m" x="577.72" y="1838.34"/>
<use href="#m" x="255.43" y="1805.15"/>
<use href="#m" x="265.03" y="1805.15"/>
<use href="#m" x="273.26" y="1805.15"/>
<use href="#m" x="281.49" y="1807.35"/>
<use href="#m" x="240.89" y="1812.01"/>
<use href="#m" x="226.08" y="1819.69"/>
<use href="#m" x="259.54" y="1819.69"/>
<use href="#m" x="260.92" y="1821.06"/>
<use href="#m" x="267.77" y="1819.69"/>
<use href="#m" x="274.63" y="1827.92"/>
<use href="#m" x="262.29" y="1834.77"/>
<use href="#m" x="263.66" y="1836.15"/>
<use href="#m" x="295.75" y="1829.29"/>
<use href="#m" x="300.69" y="1838.07"/>
<use href="#m" x="280.12" y="1847.94"/>
<use href="#m" x="281.49" y="1849.86"/>
<use href="#m" x="269.97" y="1858.09"/>
<use href="#m" x="273.26" y="1869.06"/>
<use href="#m" x="274.63" y="1870.43"/>
<use href="#m" x="297.94" y="1869.61"/>
<use href="#m" x="322.08" y="1799.12"/>
<use href="#m" x="329.49" y="1804.6"/>
<use href="#m" x="332.78" y="1819.14"/>
<use href="#m" x="351.43" y="1811.46"/>
<use href="#m" x="366.52" y="1834.77"/>
<use href="#m" x="387.91" y="1836.15"/>
<use href="#m" x="388.46" y="1836.97"/>
<use href="#m" x="395.32" y="1823.8"/>
<use href="#m" x="369.26" y="1821.06"/>
<use href="#m" x="415.89" y="1821.06"/>
<use href="#m" x="428.23" y="1819.69"/>
<use href="#m" x="336.89" y="1852.6"/>
<use href="#m" x="352.25" y="1859.46"/>
<use href="#m" x="330.31" y="1864.95"/>
<use href="#m" x="377.49" y="1864.95"/>
<use href="#m" x="387.09" y="1853.97"/>
<use href="#m" x="395.32" y="1858.09"/>
<use href="#m" x="403.54" y="1853.43"/>
<use href="#m" x="414.52" y="1861.65"/>
<use href="#m" x="421.37" y="1870.43"/>
<use href="#m" x="430.15" y="1852.6"/>
<use href="#m" x="455.66" y="1852.05"/>
<use href="#m" x="319.89" y="1891.83"/>
<use href="#m" x="335.52" y="1900.6"/>
<use href="#m" x="440.57" y="1905.27"/>
<use href="#m" x="425.49" y="1917.06"/>
<use href="#m" x="457.85" y="1918.43"/>
<use href="#m" x="509.97" y="1903.35"/>
<use href="#m" x="520.12" y="1884.15"/>
<use href="#m" x="382.42" y="1953.27"/>
<use href="#m" x="355.54" y="1981.52"/>
<use href="#m" x="553.58" y="2002.64"/>
</g>
<line x1="186.95" y1="1733.7" x2="652.3" y2="1733.7" stroke="#808080" stroke-width="6.8" stroke-dasharray="23.2 10"/>
<rect x="187.45" y="1561" width="464.85" height="462.6" fill="none" stroke="#000" stroke-width="2.45"/>
<line x1="172.85" y1="1624.85" x2="187.45" y2="1624.85" stroke="#000" stroke-width="2.45"/>
<text transform="translate(157.6 1638.65) scale(1 1.035)" font-size="36.6" text-anchor="end">0.5</text>
<line x1="172.85" y1="1733.8" x2="187.45" y2="1733.8" stroke="#000" stroke-width="2.45"/>
<text transform="translate(157.6 1747.6) scale(1 1.035)" font-size="36.6" text-anchor="end">0.0</text>
<line x1="172.85" y1="1842.75" x2="187.45" y2="1842.75" stroke="#000" stroke-width="2.45"/>
<text transform="translate(157.6 1856.55) scale(1 1.035)" font-size="36.6" text-anchor="end">−0.5</text>
<line x1="172.85" y1="1951.7" x2="187.45" y2="1951.7" stroke="#000" stroke-width="2.45"/>
<text transform="translate(157.6 1965.5) scale(1 1.035)" font-size="36.6" text-anchor="end">−1.0</text>
<line x1="388.4" y1="2023.6" x2="388.4" y2="2038.2" stroke="#000" stroke-width="2.45"/>
<text transform="translate(388.4 2079.3) scale(1 1.035)" font-size="37.5" text-anchor="middle">1</text>
<line x1="618.8" y1="2023.6" x2="618.8" y2="2038.2" stroke="#000" stroke-width="2.45"/>
<text transform="translate(618.8 2079.3) scale(1 1.035)" font-size="37.5" text-anchor="middle">2</text>
<text x="430" y="1549" font-size="37.5" text-anchor="middle">Spearman ρ = 0.03 ; p = 0.15</text>
<text x="419.5" y="2127.5" font-size="37.5" text-anchor="middle">Mean enrichment (rep1 + rep2)/2</text>
<text x="60" y="1793" font-size="37.5" text-anchor="middle" transform="rotate(-90 60 1793)">Residuals (orthogonal to x=y)</text>
<path d="M1055,1792.6 L1067,1865.3 L1079,1798.7 L1090.6,1826.2 L1102.3,1791.9 L1114.3,1705.1 L1125.6,1741.1 L1137.3,1776.5 L1149.3,1775.8 L1161.3,1792.6 L1172.6,1789.8 L1184.6,1784.7 L1196.6,1779.5 L1208.6,1786.7 L1219.9,1757.6 L1231.9,1758.3 L1243.5,1768.6 L1255.2,1748 L1267.2,1774.4 L1278.9,1746.3 L1290.9,1717.1 L1303.5,1723 L1314.5,1865.3 L1326.9,1665" fill="none" stroke="#257dbd" stroke-width="7.0" stroke-linejoin="round"/>
<circle cx="1055" cy="1792.6" r="10.6" fill="#257dbd"/>
<circle cx="1067" cy="1865.3" r="10.6" fill="#257dbd"/>
<circle cx="1079" cy="1798.7" r="10.6" fill="#257dbd"/>
<circle cx="1090.6" cy="1826.2" r="10.6" fill="#257dbd"/>
<circle cx="1102.3" cy="1791.9" r="10.6" fill="#257dbd"/>
<circle cx="1114.3" cy="1705.1" r="10.6" fill="#257dbd"/>
<circle cx="1125.6" cy="1741.1" r="10.6" fill="#257dbd"/>
<circle cx="1137.3" cy="1776.5" r="10.6" fill="#257dbd"/>
<circle cx="1149.3" cy="1775.8" r="10.6" fill="#257dbd"/>
<circle cx="1161.3" cy="1792.6" r="10.6" fill="#257dbd"/>
<circle cx="1172.6" cy="1789.8" r="10.6" fill="#257dbd"/>
<circle cx="1184.6" cy="1784.7" r="10.6" fill="#257dbd"/>
<circle cx="1196.6" cy="1779.5" r="10.6" fill="#257dbd"/>
<circle cx="1208.6" cy="1786.7" r="10.6" fill="#257dbd"/>
<circle cx="1219.9" cy="1757.6" r="10.6" fill="#257dbd"/>
<circle cx="1231.9" cy="1758.3" r="10.6" fill="#257dbd"/>
<circle cx="1243.5" cy="1768.6" r="10.6" fill="#257dbd"/>
<circle cx="1255.2" cy="1748" r="10.6" fill="#257dbd"/>
<circle cx="1267.2" cy="1774.4" r="10.6" fill="#257dbd"/>
<circle cx="1278.9" cy="1746.3" r="10.6" fill="#257dbd"/>
<circle cx="1290.9" cy="1717.1" r="10.6" fill="#257dbd"/>
<circle cx="1303.5" cy="1723" r="10.6" fill="#257dbd"/>
<circle cx="1314.5" cy="1865.3" r="10.6" fill="#257dbd"/>
<circle cx="1326.9" cy="1665" r="10.6" fill="#257dbd"/>
<circle cx="1349.8" cy="1721.6" r="10.6" fill="#257dbd"/>
<circle cx="1385.1" cy="1865.3" r="10.6" fill="#257dbd"/>
<rect x="1038.9" y="1579.8" width="362.6" height="342.5" fill="none" stroke="#000" stroke-width="2.45"/>
<line x1="1024.3" y1="1865.3" x2="1038.9" y2="1865.3" stroke="#000" stroke-width="2.45"/>
<text transform="translate(1008.6 1879.1) scale(1 1.035)" font-size="37.5" text-anchor="end">0.0</text>
<line x1="1024.3" y1="1751.1" x2="1038.9" y2="1751.1" stroke="#000" stroke-width="2.45"/>
<text transform="translate(1008.6 1764.9) scale(1 1.035)" font-size="37.5" text-anchor="end">0.2</text>
<line x1="1024.3" y1="1636.9" x2="1038.9" y2="1636.9" stroke="#000" stroke-width="2.45"/>
<text transform="translate(1008.6 1650.7) scale(1 1.035)" font-size="37.5" text-anchor="end">0.4</text>
<line x1="1195.5" y1="1922.3" x2="1195.5" y2="1936.9" stroke="#000" stroke-width="2.45"/>
<text transform="translate(1195.5 1977.5) scale(1 1.035)" font-size="37.5" text-anchor="middle">1</text>
<line x1="1380.7" y1="1922.3" x2="1380.7" y2="1936.9" stroke="#000" stroke-width="2.45"/>
<text transform="translate(1380.7 1977.5) scale(1 1.035)" font-size="37.5" text-anchor="middle">2</text>
<text x="1220.5" y="2029" font-size="37.5" text-anchor="middle">Mean enrichment</text>
<text x="932" y="1750" font-size="37.5" text-anchor="middle" transform="rotate(-90 932 1750)">SD of residuals</text>
<text transform="translate(-2.33 37.7) scale(1.1067 1.0523)" font-size="46" font-weight="bold" style="stroke-width:0.3px">A</text>
<text transform="translate(1087.11 33.8) scale(0.9907 1.0365)" font-size="46" font-weight="bold" style="stroke-width:0.3px">B</text>
<text transform="translate(2.33 777.21) scale(0.9599 1.0594)" font-size="46" font-weight="bold" style="stroke-width:0.3px">C</text>
<text transform="translate(1086.98 776.8) scale(1.0014 1.0334)" font-size="46" font-weight="bold" style="stroke-width:0.3px">D</text>
<text transform="translate(3.92 1510.9) scale(0.9860 1.0302)" font-size="46" font-weight="bold" style="stroke-width:0.3px">E</text>
<text transform="translate(853.81 1510.9) scale(0.9913 1.0302)" font-size="46" font-weight="bold" style="stroke-width:0.3px">F</text>
</svg>
</body>
</html>
